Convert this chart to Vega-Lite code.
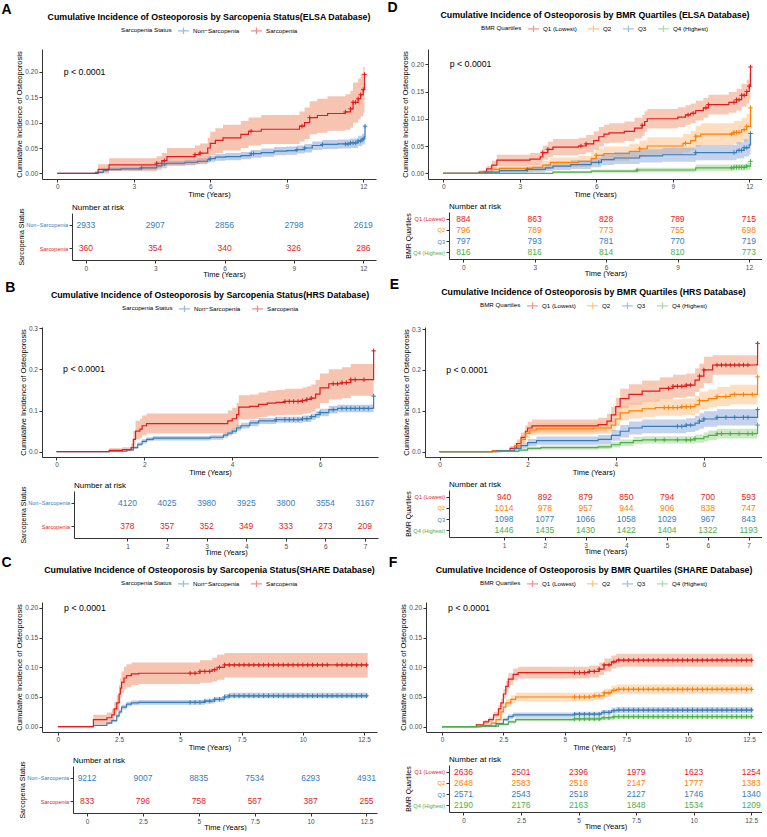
{
"$schema": "https://vega.github.io/schema/vega-lite/v6.json",
"background": "white",
"padding": {"left": 1, "top": 1, "right": 0, "bottom": 0},
"config": {
  "font": "Liberation Sans",
  "view": {"stroke": null},
  "axis": {"grid": false, "domainColor": "#333333", "tickColor": "#333333", "tickSize": 3, "labelColor": "#4D4D4D", "labelFontSize": 6.5, "titleFontSize": 7.5, "titleFontWeight": "normal", "titleColor": "#000000", "labelPadding": 1.5},
  "axisX": {"titlePadding": 0},
  "axisY": {"titlePadding": 1},
  "legend": {"orient": "top", "direction": "horizontal", "titleOrient": "left", "titleFontSize": 6.2, "titleFontWeight": "normal", "titleColor": "#000000", "labelFontSize": 6.2, "labelColor": "#000000", "symbolType": "M-1,0L1,0M0,-0.6L0,0.6", "symbolSize": 120, "symbolStrokeWidth": 1.3, "columnPadding": 8, "labelOffset": 3, "titlePadding": 5, "offset": 12, "padding": 0, "layout": {"top": {"anchor": "middle"}}},
  "title": {"fontSize": 8.8, "fontWeight": "bold", "color": "#000000", "offset": 2}
},
"datasets": {
"Ac": [
{"g":"Non−Sarcopenia","t":0,"v":0,"lo":0,"hi":0},{"g":"Non−Sarcopenia","t":1.5,"v":0.002,"lo":0.0005,"hi":0.004},{"g":"Non−Sarcopenia","t":1.8,"v":0.006,"lo":0.003,"hi":0.009},{"g":"Non−Sarcopenia","t":2.0,"v":0.008,"lo":0.005,"hi":0.012},{"g":"Non−Sarcopenia","t":2.5,"v":0.009,"lo":0.006,"hi":0.013},{"g":"Non−Sarcopenia","t":3.3,"v":0.011,"lo":0.007,"hi":0.015},{"g":"Non−Sarcopenia","t":3.9,"v":0.015,"lo":0.011,"hi":0.02},{"g":"Non−Sarcopenia","t":4.1,"v":0.019,"lo":0.014,"hi":0.024},{"g":"Non−Sarcopenia","t":4.3,"v":0.02,"lo":0.015,"hi":0.025},{"g":"Non−Sarcopenia","t":5.0,"v":0.022,"lo":0.017,"hi":0.027},{"g":"Non−Sarcopenia","t":5.5,"v":0.024,"lo":0.018,"hi":0.03},{"g":"Non−Sarcopenia","t":5.9,"v":0.027,"lo":0.021,"hi":0.033},{"g":"Non−Sarcopenia","t":6.0,"v":0.029,"lo":0.023,"hi":0.035},{"g":"Non−Sarcopenia","t":6.2,"v":0.032,"lo":0.025,"hi":0.038},{"g":"Non−Sarcopenia","t":6.6,"v":0.033,"lo":0.026,"hi":0.04},{"g":"Non−Sarcopenia","t":7.2,"v":0.035,"lo":0.028,"hi":0.042},{"g":"Non−Sarcopenia","t":7.6,"v":0.039,"lo":0.031,"hi":0.046},{"g":"Non−Sarcopenia","t":8.0,"v":0.041,"lo":0.033,"hi":0.049},{"g":"Non−Sarcopenia","t":8.5,"v":0.044,"lo":0.036,"hi":0.052},{"g":"Non−Sarcopenia","t":9.0,"v":0.045,"lo":0.037,"hi":0.053},{"g":"Non−Sarcopenia","t":9.4,"v":0.047,"lo":0.039,"hi":0.055},{"g":"Non−Sarcopenia","t":9.7,"v":0.05,"lo":0.041,"hi":0.058},{"g":"Non−Sarcopenia","t":10.0,"v":0.055,"lo":0.046,"hi":0.063},{"g":"Non−Sarcopenia","t":10.4,"v":0.057,"lo":0.048,"hi":0.066},{"g":"Non−Sarcopenia","t":11.0,"v":0.058,"lo":0.049,"hi":0.067},{"g":"Non−Sarcopenia","t":11.5,"v":0.06,"lo":0.05,"hi":0.069},{"g":"Non−Sarcopenia","t":11.8,"v":0.064,"lo":0.054,"hi":0.074},{"g":"Non−Sarcopenia","t":11.95,"v":0.068,"lo":0.057,"hi":0.078},{"g":"Non−Sarcopenia","t":12.05,"v":0.072,"lo":0.06,"hi":0.083},{"g":"Non−Sarcopenia","t":12.07,"v":0.093,"lo":0.075,"hi":0.11},
{"g":"Sarcopenia","t":0,"v":0,"lo":0,"hi":0},{"g":"Sarcopenia","t":1.6,"v":0.008,"lo":0,"hi":0.018},{"g":"Sarcopenia","t":2.03,"v":0.017,"lo":0.005,"hi":0.03},{"g":"Sarcopenia","t":3.9,"v":0.02,"lo":0.007,"hi":0.034},{"g":"Sarcopenia","t":4.1,"v":0.025,"lo":0.01,"hi":0.04},{"g":"Sarcopenia","t":4.3,"v":0.033,"lo":0.016,"hi":0.05},{"g":"Sarcopenia","t":5.4,"v":0.037,"lo":0.019,"hi":0.055},{"g":"Sarcopenia","t":5.6,"v":0.04,"lo":0.021,"hi":0.059},{"g":"Sarcopenia","t":5.9,"v":0.05,"lo":0.028,"hi":0.07},{"g":"Sarcopenia","t":6.0,"v":0.059,"lo":0.036,"hi":0.082},{"g":"Sarcopenia","t":6.2,"v":0.065,"lo":0.04,"hi":0.089},{"g":"Sarcopenia","t":6.5,"v":0.07,"lo":0.045,"hi":0.096},{"g":"Sarcopenia","t":7.2,"v":0.077,"lo":0.05,"hi":0.103},{"g":"Sarcopenia","t":7.5,"v":0.083,"lo":0.055,"hi":0.11},{"g":"Sarcopenia","t":8.0,"v":0.087,"lo":0.058,"hi":0.115},{"g":"Sarcopenia","t":9.5,"v":0.093,"lo":0.063,"hi":0.122},{"g":"Sarcopenia","t":9.7,"v":0.1,"lo":0.068,"hi":0.13},{"g":"Sarcopenia","t":9.9,"v":0.11,"lo":0.077,"hi":0.142},{"g":"Sarcopenia","t":10.2,"v":0.114,"lo":0.08,"hi":0.147},{"g":"Sarcopenia","t":10.6,"v":0.118,"lo":0.084,"hi":0.152},{"g":"Sarcopenia","t":11.3,"v":0.121,"lo":0.086,"hi":0.156},{"g":"Sarcopenia","t":11.5,"v":0.127,"lo":0.09,"hi":0.163},{"g":"Sarcopenia","t":11.6,"v":0.14,"lo":0.1,"hi":0.179},{"g":"Sarcopenia","t":11.8,"v":0.147,"lo":0.106,"hi":0.187},{"g":"Sarcopenia","t":11.9,"v":0.155,"lo":0.112,"hi":0.197},{"g":"Sarcopenia","t":12.0,"v":0.165,"lo":0.12,"hi":0.21},{"g":"Sarcopenia","t":12.05,"v":0.195,"lo":0.14,"hi":0.245}
],
"Ax": [
{"g":"Sarcopenia","t":3.9,"v":0.02},{"g":"Sarcopenia","t":4.2,"v":0.025},{"g":"Sarcopenia","t":5.4,"v":0.037},{"g":"Sarcopenia","t":5.6,"v":0.04},{"g":"Sarcopenia","t":7.6,"v":0.083},{"g":"Sarcopenia","t":9.6,"v":0.093},{"g":"Sarcopenia","t":9.9,"v":0.11},{"g":"Sarcopenia","t":11.3,"v":0.121},{"g":"Sarcopenia","t":11.5,"v":0.127},{"g":"Sarcopenia","t":11.6,"v":0.14},{"g":"Sarcopenia","t":11.7,"v":0.14},{"g":"Sarcopenia","t":11.8,"v":0.147},{"g":"Sarcopenia","t":11.9,"v":0.155},{"g":"Sarcopenia","t":12.0,"v":0.165},{"g":"Sarcopenia","t":12.05,"v":0.195},
{"g":"Non−Sarcopenia","t":3.3,"v":0.011},{"g":"Non−Sarcopenia","t":4.2,"v":0.019},{"g":"Non−Sarcopenia","t":6.0,"v":0.029},{"g":"Non−Sarcopenia","t":7.6,"v":0.039},{"g":"Non−Sarcopenia","t":7.7,"v":0.039},{"g":"Non−Sarcopenia","t":9.4,"v":0.047},{"g":"Non−Sarcopenia","t":9.7,"v":0.05},{"g":"Non−Sarcopenia","t":10.4,"v":0.057},{"g":"Non−Sarcopenia","t":11.3,"v":0.058},{"g":"Non−Sarcopenia","t":11.4,"v":0.058},{"g":"Non−Sarcopenia","t":11.5,"v":0.06},{"g":"Non−Sarcopenia","t":11.6,"v":0.06},{"g":"Non−Sarcopenia","t":11.7,"v":0.06},{"g":"Non−Sarcopenia","t":11.8,"v":0.064},{"g":"Non−Sarcopenia","t":11.9,"v":0.064},{"g":"Non−Sarcopenia","t":12.0,"v":0.068},{"g":"Non−Sarcopenia","t":12.07,"v":0.093}
],
"Ar": [
{"g":"Non−Sarcopenia","t":0,"n":"2933"},{"g":"Non−Sarcopenia","t":3,"n":"2907"},{"g":"Non−Sarcopenia","t":6,"n":"2856"},{"g":"Non−Sarcopenia","t":9,"n":"2798"},{"g":"Non−Sarcopenia","t":12,"n":"2619"},
{"g":"Sarcopenia","t":0,"n":"360"},{"g":"Sarcopenia","t":3,"n":"354"},{"g":"Sarcopenia","t":6,"n":"340"},{"g":"Sarcopenia","t":9,"n":"326"},{"g":"Sarcopenia","t":12,"n":"286"}
],
"Bc": [
{"g":"Non−Sarcopenia","t":0,"v":0,"lo":0,"hi":0},{"g":"Non−Sarcopenia","t":1.2,"v":0.001,"lo":0,"hi":0.002},{"g":"Non−Sarcopenia","t":1.6,"v":0.004,"lo":0.002,"hi":0.006},{"g":"Non−Sarcopenia","t":1.75,"v":0.01,"lo":0.007,"hi":0.013},{"g":"Non−Sarcopenia","t":1.85,"v":0.018,"lo":0.014,"hi":0.022},{"g":"Non−Sarcopenia","t":1.95,"v":0.025,"lo":0.02,"hi":0.03},{"g":"Non−Sarcopenia","t":2.05,"v":0.03,"lo":0.025,"hi":0.035},{"g":"Non−Sarcopenia","t":2.2,"v":0.033,"lo":0.027,"hi":0.038},{"g":"Non−Sarcopenia","t":3.5,"v":0.035,"lo":0.029,"hi":0.04},{"g":"Non−Sarcopenia","t":3.8,"v":0.04,"lo":0.034,"hi":0.046},{"g":"Non−Sarcopenia","t":3.9,"v":0.045,"lo":0.039,"hi":0.051},{"g":"Non−Sarcopenia","t":4.0,"v":0.05,"lo":0.043,"hi":0.056},{"g":"Non−Sarcopenia","t":4.1,"v":0.058,"lo":0.051,"hi":0.065},{"g":"Non−Sarcopenia","t":4.2,"v":0.063,"lo":0.056,"hi":0.07},{"g":"Non−Sarcopenia","t":4.4,"v":0.07,"lo":0.062,"hi":0.077},{"g":"Non−Sarcopenia","t":4.6,"v":0.075,"lo":0.067,"hi":0.082},{"g":"Non−Sarcopenia","t":5.0,"v":0.078,"lo":0.07,"hi":0.085},{"g":"Non−Sarcopenia","t":5.6,"v":0.08,"lo":0.072,"hi":0.088},{"g":"Non−Sarcopenia","t":5.8,"v":0.085,"lo":0.077,"hi":0.093},{"g":"Non−Sarcopenia","t":5.9,"v":0.09,"lo":0.081,"hi":0.098},{"g":"Non−Sarcopenia","t":6.0,"v":0.095,"lo":0.086,"hi":0.104},{"g":"Non−Sarcopenia","t":6.2,"v":0.102,"lo":0.093,"hi":0.111},{"g":"Non−Sarcopenia","t":6.4,"v":0.105,"lo":0.096,"hi":0.114},{"g":"Non−Sarcopenia","t":7.2,"v":0.106,"lo":0.096,"hi":0.115},{"g":"Non−Sarcopenia","t":7.22,"v":0.135,"lo":0.12,"hi":0.15},
{"g":"Sarcopenia","t":0,"v":0,"lo":0,"hi":0},{"g":"Sarcopenia","t":1.2,"v":0.003,"lo":0,"hi":0.008},{"g":"Sarcopenia","t":1.5,"v":0.005,"lo":0.001,"hi":0.011},{"g":"Sarcopenia","t":1.7,"v":0.01,"lo":0.002,"hi":0.02},{"g":"Sarcopenia","t":1.75,"v":0.03,"lo":0.015,"hi":0.05},{"g":"Sarcopenia","t":1.8,"v":0.05,"lo":0.03,"hi":0.075},{"g":"Sarcopenia","t":1.9,"v":0.055,"lo":0.034,"hi":0.08},{"g":"Sarcopenia","t":1.95,"v":0.063,"lo":0.04,"hi":0.088},{"g":"Sarcopenia","t":2.05,"v":0.068,"lo":0.045,"hi":0.093},{"g":"Sarcopenia","t":3.9,"v":0.075,"lo":0.05,"hi":0.1},{"g":"Sarcopenia","t":4.0,"v":0.08,"lo":0.054,"hi":0.106},{"g":"Sarcopenia","t":4.1,"v":0.09,"lo":0.062,"hi":0.118},{"g":"Sarcopenia","t":4.15,"v":0.108,"lo":0.078,"hi":0.137},{"g":"Sarcopenia","t":4.4,"v":0.11,"lo":0.08,"hi":0.139},{"g":"Sarcopenia","t":4.6,"v":0.115,"lo":0.084,"hi":0.144},{"g":"Sarcopenia","t":4.8,"v":0.118,"lo":0.087,"hi":0.148},{"g":"Sarcopenia","t":5.0,"v":0.12,"lo":0.089,"hi":0.15},{"g":"Sarcopenia","t":5.2,"v":0.122,"lo":0.09,"hi":0.153},{"g":"Sarcopenia","t":5.6,"v":0.124,"lo":0.092,"hi":0.156},{"g":"Sarcopenia","t":5.7,"v":0.127,"lo":0.094,"hi":0.159},{"g":"Sarcopenia","t":5.8,"v":0.13,"lo":0.097,"hi":0.163},{"g":"Sarcopenia","t":5.9,"v":0.14,"lo":0.105,"hi":0.174},{"g":"Sarcopenia","t":6.0,"v":0.155,"lo":0.118,"hi":0.19},{"g":"Sarcopenia","t":6.2,"v":0.165,"lo":0.127,"hi":0.2},{"g":"Sarcopenia","t":6.5,"v":0.168,"lo":0.13,"hi":0.205},{"g":"Sarcopenia","t":6.7,"v":0.175,"lo":0.136,"hi":0.213},{"g":"Sarcopenia","t":7.2,"v":0.175,"lo":0.136,"hi":0.213},{"g":"Sarcopenia","t":7.22,"v":0.245,"lo":0.18,"hi":0.3}
],
"Bx": [
{"g":"Sarcopenia","t":5.2,"v":0.122},{"g":"Sarcopenia","t":5.3,"v":0.122},{"g":"Sarcopenia","t":5.4,"v":0.122},{"g":"Sarcopenia","t":5.5,"v":0.122},{"g":"Sarcopenia","t":5.6,"v":0.124},{"g":"Sarcopenia","t":5.7,"v":0.127},{"g":"Sarcopenia","t":5.8,"v":0.13},{"g":"Sarcopenia","t":6.3,"v":0.165},{"g":"Sarcopenia","t":6.4,"v":0.165},{"g":"Sarcopenia","t":6.5,"v":0.168},{"g":"Sarcopenia","t":6.6,"v":0.168},{"g":"Sarcopenia","t":6.7,"v":0.175},{"g":"Sarcopenia","t":6.8,"v":0.175},{"g":"Sarcopenia","t":7.0,"v":0.175},{"g":"Sarcopenia","t":7.22,"v":0.245},
{"g":"Non−Sarcopenia","t":5.0,"v":0.078},{"g":"Non−Sarcopenia","t":5.2,"v":0.078},{"g":"Non−Sarcopenia","t":5.3,"v":0.078},{"g":"Non−Sarcopenia","t":5.4,"v":0.078},{"g":"Non−Sarcopenia","t":5.5,"v":0.078},{"g":"Non−Sarcopenia","t":5.6,"v":0.08},{"g":"Non−Sarcopenia","t":5.7,"v":0.08},{"g":"Non−Sarcopenia","t":5.8,"v":0.085},{"g":"Non−Sarcopenia","t":6.0,"v":0.095},{"g":"Non−Sarcopenia","t":6.3,"v":0.102},{"g":"Non−Sarcopenia","t":6.5,"v":0.105},{"g":"Non−Sarcopenia","t":6.6,"v":0.105},{"g":"Non−Sarcopenia","t":6.7,"v":0.105},{"g":"Non−Sarcopenia","t":6.8,"v":0.105},{"g":"Non−Sarcopenia","t":6.9,"v":0.105},{"g":"Non−Sarcopenia","t":7.0,"v":0.105},{"g":"Non−Sarcopenia","t":7.1,"v":0.105},{"g":"Non−Sarcopenia","t":7.22,"v":0.135}
],
"Br": [
{"g":"Non−Sarcopenia","t":1,"n":"4120"},{"g":"Non−Sarcopenia","t":2,"n":"4025"},{"g":"Non−Sarcopenia","t":3,"n":"3980"},{"g":"Non−Sarcopenia","t":4,"n":"3925"},{"g":"Non−Sarcopenia","t":5,"n":"3800"},{"g":"Non−Sarcopenia","t":6,"n":"3554"},{"g":"Non−Sarcopenia","t":7,"n":"3167"},
{"g":"Sarcopenia","t":1,"n":"378"},{"g":"Sarcopenia","t":2,"n":"357"},{"g":"Sarcopenia","t":3,"n":"352"},{"g":"Sarcopenia","t":4,"n":"349"},{"g":"Sarcopenia","t":5,"n":"333"},{"g":"Sarcopenia","t":6,"n":"273"},{"g":"Sarcopenia","t":7,"n":"209"}
],
"Cc": [
{"g":"Non−Sarcopenia","t":0,"v":0,"lo":0,"hi":0},{"g":"Non−Sarcopenia","t":1.45,"v":0.002,"lo":0.001,"hi":0.003},{"g":"Non−Sarcopenia","t":2.0,"v":0.006,"lo":0.004,"hi":0.008},{"g":"Non−Sarcopenia","t":2.2,"v":0.01,"lo":0.008,"hi":0.012},{"g":"Non−Sarcopenia","t":2.4,"v":0.018,"lo":0.015,"hi":0.021},{"g":"Non−Sarcopenia","t":2.5,"v":0.025,"lo":0.021,"hi":0.029},{"g":"Non−Sarcopenia","t":2.6,"v":0.033,"lo":0.029,"hi":0.037},{"g":"Non−Sarcopenia","t":2.8,"v":0.038,"lo":0.034,"hi":0.042},{"g":"Non−Sarcopenia","t":3.0,"v":0.04,"lo":0.036,"hi":0.044},{"g":"Non−Sarcopenia","t":3.3,"v":0.041,"lo":0.037,"hi":0.045},{"g":"Non−Sarcopenia","t":6.0,"v":0.043,"lo":0.039,"hi":0.047},{"g":"Non−Sarcopenia","t":6.4,"v":0.046,"lo":0.042,"hi":0.05},{"g":"Non−Sarcopenia","t":6.8,"v":0.05,"lo":0.046,"hi":0.055},{"g":"Non−Sarcopenia","t":7.0,"v":0.052,"lo":0.048,"hi":0.057},{"g":"Non−Sarcopenia","t":12.65,"v":0.052,"lo":0.048,"hi":0.057},
{"g":"Sarcopenia","t":0,"v":0,"lo":0,"hi":0},{"g":"Sarcopenia","t":1.45,"v":0.012,"lo":0.004,"hi":0.02},{"g":"Sarcopenia","t":2.0,"v":0.015,"lo":0.007,"hi":0.024},{"g":"Sarcopenia","t":2.2,"v":0.02,"lo":0.011,"hi":0.03},{"g":"Sarcopenia","t":2.3,"v":0.03,"lo":0.019,"hi":0.042},{"g":"Sarcopenia","t":2.4,"v":0.04,"lo":0.027,"hi":0.053},{"g":"Sarcopenia","t":2.5,"v":0.055,"lo":0.04,"hi":0.07},{"g":"Sarcopenia","t":2.55,"v":0.065,"lo":0.048,"hi":0.082},{"g":"Sarcopenia","t":2.6,"v":0.075,"lo":0.057,"hi":0.093},{"g":"Sarcopenia","t":2.7,"v":0.082,"lo":0.063,"hi":0.101},{"g":"Sarcopenia","t":2.8,"v":0.086,"lo":0.067,"hi":0.105},{"g":"Sarcopenia","t":3.0,"v":0.089,"lo":0.07,"hi":0.108},{"g":"Sarcopenia","t":3.3,"v":0.09,"lo":0.072,"hi":0.108},{"g":"Sarcopenia","t":5.8,"v":0.093,"lo":0.074,"hi":0.112},{"g":"Sarcopenia","t":6.3,"v":0.096,"lo":0.076,"hi":0.116},{"g":"Sarcopenia","t":6.5,"v":0.1,"lo":0.079,"hi":0.121},{"g":"Sarcopenia","t":6.8,"v":0.104,"lo":0.083,"hi":0.124},{"g":"Sarcopenia","t":12.65,"v":0.104,"lo":0.083,"hi":0.124}
],
"Cx": [
{"g":"Sarcopenia","t":5.4,"v":0.09},{"g":"Sarcopenia","t":5.6,"v":0.09},{"g":"Sarcopenia","t":5.8,"v":0.093},{"g":"Sarcopenia","t":6.0,"v":0.093},{"g":"Sarcopenia","t":6.2,"v":0.093},{"g":"Sarcopenia","t":6.4,"v":0.096},{"g":"Sarcopenia","t":6.6,"v":0.1},{"g":"Sarcopenia","t":6.8,"v":0.104},{"g":"Sarcopenia","t":7.0,"v":0.104},{"g":"Sarcopenia","t":7.2,"v":0.104},{"g":"Sarcopenia","t":7.4,"v":0.104},{"g":"Sarcopenia","t":7.6,"v":0.104},{"g":"Sarcopenia","t":7.8,"v":0.104},{"g":"Sarcopenia","t":8.0,"v":0.104},{"g":"Sarcopenia","t":8.2,"v":0.104},{"g":"Sarcopenia","t":8.4,"v":0.104},{"g":"Sarcopenia","t":8.6,"v":0.104},{"g":"Sarcopenia","t":8.8,"v":0.104},{"g":"Sarcopenia","t":9.0,"v":0.104},{"g":"Sarcopenia","t":9.2,"v":0.104},{"g":"Sarcopenia","t":9.4,"v":0.104},{"g":"Sarcopenia","t":9.6,"v":0.104},{"g":"Sarcopenia","t":9.8,"v":0.104},{"g":"Sarcopenia","t":10.0,"v":0.104},{"g":"Sarcopenia","t":10.2,"v":0.104},{"g":"Sarcopenia","t":10.4,"v":0.104},{"g":"Sarcopenia","t":10.6,"v":0.104},{"g":"Sarcopenia","t":10.8,"v":0.104},{"g":"Sarcopenia","t":11.0,"v":0.104},{"g":"Sarcopenia","t":11.4,"v":0.104},{"g":"Sarcopenia","t":11.6,"v":0.104},{"g":"Sarcopenia","t":11.8,"v":0.104},{"g":"Sarcopenia","t":12.0,"v":0.104},{"g":"Sarcopenia","t":12.2,"v":0.104},{"g":"Sarcopenia","t":12.4,"v":0.104},{"g":"Sarcopenia","t":12.6,"v":0.104},
{"g":"Non−Sarcopenia","t":5.4,"v":0.041},{"g":"Non−Sarcopenia","t":5.6,"v":0.041},{"g":"Non−Sarcopenia","t":5.8,"v":0.041},{"g":"Non−Sarcopenia","t":6.0,"v":0.043},{"g":"Non−Sarcopenia","t":6.2,"v":0.043},{"g":"Non−Sarcopenia","t":6.4,"v":0.046},{"g":"Non−Sarcopenia","t":6.6,"v":0.046},{"g":"Non−Sarcopenia","t":6.8,"v":0.05},{"g":"Non−Sarcopenia","t":7.0,"v":0.052},{"g":"Non−Sarcopenia","t":7.2,"v":0.052},{"g":"Non−Sarcopenia","t":7.4,"v":0.052},{"g":"Non−Sarcopenia","t":7.6,"v":0.052},{"g":"Non−Sarcopenia","t":7.8,"v":0.052},{"g":"Non−Sarcopenia","t":8.0,"v":0.052},{"g":"Non−Sarcopenia","t":8.2,"v":0.052},{"g":"Non−Sarcopenia","t":8.4,"v":0.052},{"g":"Non−Sarcopenia","t":8.6,"v":0.052},{"g":"Non−Sarcopenia","t":8.8,"v":0.052},{"g":"Non−Sarcopenia","t":9.0,"v":0.052},{"g":"Non−Sarcopenia","t":9.2,"v":0.052},{"g":"Non−Sarcopenia","t":9.4,"v":0.052},{"g":"Non−Sarcopenia","t":9.6,"v":0.052},{"g":"Non−Sarcopenia","t":9.8,"v":0.052},{"g":"Non−Sarcopenia","t":10.0,"v":0.052},{"g":"Non−Sarcopenia","t":10.2,"v":0.052},{"g":"Non−Sarcopenia","t":10.4,"v":0.052},{"g":"Non−Sarcopenia","t":10.6,"v":0.052},{"g":"Non−Sarcopenia","t":10.8,"v":0.052},{"g":"Non−Sarcopenia","t":11.0,"v":0.052},{"g":"Non−Sarcopenia","t":11.2,"v":0.052},{"g":"Non−Sarcopenia","t":11.4,"v":0.052},{"g":"Non−Sarcopenia","t":11.6,"v":0.052},{"g":"Non−Sarcopenia","t":11.8,"v":0.052},{"g":"Non−Sarcopenia","t":12.0,"v":0.052},{"g":"Non−Sarcopenia","t":12.2,"v":0.052},{"g":"Non−Sarcopenia","t":12.4,"v":0.052},{"g":"Non−Sarcopenia","t":12.6,"v":0.052}
],
"Cr": [
{"g":"Non−Sarcopenia","t":0,"n":"9212"},{"g":"Non−Sarcopenia","t":2.5,"n":"9007"},{"g":"Non−Sarcopenia","t":5,"n":"8835"},{"g":"Non−Sarcopenia","t":7.5,"n":"7534"},{"g":"Non−Sarcopenia","t":10,"n":"6293"},{"g":"Non−Sarcopenia","t":12.5,"n":"4931"},
{"g":"Sarcopenia","t":0,"n":"833"},{"g":"Sarcopenia","t":2.5,"n":"796"},{"g":"Sarcopenia","t":5,"n":"758"},{"g":"Sarcopenia","t":7.5,"n":"567"},{"g":"Sarcopenia","t":10,"n":"387"},{"g":"Sarcopenia","t":12.5,"n":"255"}
],
"Dc": [
{"g":"Q1 (Lowest)","t":0,"v":0,"lo":0,"hi":0},{"g":"Q1 (Lowest)","t":1.4,"v":0.002,"lo":0,"hi":0.005},{"g":"Q1 (Lowest)","t":1.7,"v":0.008,"lo":0.002,"hi":0.014},{"g":"Q1 (Lowest)","t":1.9,"v":0.015,"lo":0.007,"hi":0.023},{"g":"Q1 (Lowest)","t":2.1,"v":0.024,"lo":0.014,"hi":0.034},{"g":"Q1 (Lowest)","t":3.4,"v":0.026,"lo":0.015,"hi":0.037},{"g":"Q1 (Lowest)","t":3.8,"v":0.03,"lo":0.018,"hi":0.042},{"g":"Q1 (Lowest)","t":3.9,"v":0.038,"lo":0.025,"hi":0.051},{"g":"Q1 (Lowest)","t":4.1,"v":0.044,"lo":0.03,"hi":0.058},{"g":"Q1 (Lowest)","t":4.3,"v":0.048,"lo":0.033,"hi":0.063},{"g":"Q1 (Lowest)","t":5.3,"v":0.05,"lo":0.035,"hi":0.065},{"g":"Q1 (Lowest)","t":5.6,"v":0.054,"lo":0.038,"hi":0.07},{"g":"Q1 (Lowest)","t":5.9,"v":0.06,"lo":0.043,"hi":0.077},{"g":"Q1 (Lowest)","t":6.1,"v":0.067,"lo":0.049,"hi":0.085},{"g":"Q1 (Lowest)","t":6.3,"v":0.072,"lo":0.055,"hi":0.089},{"g":"Q1 (Lowest)","t":6.5,"v":0.074,"lo":0.056,"hi":0.092},{"g":"Q1 (Lowest)","t":7.1,"v":0.077,"lo":0.059,"hi":0.095},{"g":"Q1 (Lowest)","t":7.5,"v":0.083,"lo":0.064,"hi":0.102},{"g":"Q1 (Lowest)","t":7.8,"v":0.088,"lo":0.069,"hi":0.107},{"g":"Q1 (Lowest)","t":7.9,"v":0.095,"lo":0.076,"hi":0.114},{"g":"Q1 (Lowest)","t":8.0,"v":0.1,"lo":0.082,"hi":0.118},{"g":"Q1 (Lowest)","t":9.2,"v":0.103,"lo":0.085,"hi":0.121},{"g":"Q1 (Lowest)","t":9.5,"v":0.107,"lo":0.089,"hi":0.125},{"g":"Q1 (Lowest)","t":9.7,"v":0.11,"lo":0.092,"hi":0.128},{"g":"Q1 (Lowest)","t":9.9,"v":0.115,"lo":0.097,"hi":0.133},{"g":"Q1 (Lowest)","t":10.2,"v":0.12,"lo":0.102,"hi":0.138},{"g":"Q1 (Lowest)","t":10.4,"v":0.126,"lo":0.108,"hi":0.144},{"g":"Q1 (Lowest)","t":11.2,"v":0.13,"lo":0.111,"hi":0.149},{"g":"Q1 (Lowest)","t":11.5,"v":0.135,"lo":0.115,"hi":0.155},{"g":"Q1 (Lowest)","t":11.7,"v":0.143,"lo":0.122,"hi":0.164},{"g":"Q1 (Lowest)","t":11.9,"v":0.15,"lo":0.128,"hi":0.172},{"g":"Q1 (Lowest)","t":12.0,"v":0.16,"lo":0.136,"hi":0.184},{"g":"Q1 (Lowest)","t":12.05,"v":0.195,"lo":0.16,"hi":0.23},
{"g":"Q2","t":0,"v":0,"lo":0,"hi":0},{"g":"Q2","t":1.5,"v":0.002,"lo":0,"hi":0.005},{"g":"Q2","t":1.9,"v":0.007,"lo":0.002,"hi":0.012},{"g":"Q2","t":2.2,"v":0.009,"lo":0.003,"hi":0.015},{"g":"Q2","t":3.5,"v":0.011,"lo":0.004,"hi":0.018},{"g":"Q2","t":3.9,"v":0.015,"lo":0.007,"hi":0.023},{"g":"Q2","t":4.2,"v":0.02,"lo":0.011,"hi":0.029},{"g":"Q2","t":5.3,"v":0.022,"lo":0.012,"hi":0.032},{"g":"Q2","t":5.8,"v":0.027,"lo":0.016,"hi":0.038},{"g":"Q2","t":6.0,"v":0.033,"lo":0.021,"hi":0.045},{"g":"Q2","t":6.3,"v":0.036,"lo":0.023,"hi":0.049},{"g":"Q2","t":7.3,"v":0.04,"lo":0.026,"hi":0.054},{"g":"Q2","t":7.7,"v":0.045,"lo":0.03,"hi":0.06},{"g":"Q2","t":8.0,"v":0.05,"lo":0.034,"hi":0.066},{"g":"Q2","t":9.4,"v":0.055,"lo":0.038,"hi":0.072},{"g":"Q2","t":9.7,"v":0.06,"lo":0.042,"hi":0.078},{"g":"Q2","t":9.9,"v":0.068,"lo":0.049,"hi":0.087},{"g":"Q2","t":10.1,"v":0.072,"lo":0.052,"hi":0.092},{"g":"Q2","t":11.4,"v":0.075,"lo":0.054,"hi":0.096},{"g":"Q2","t":11.7,"v":0.08,"lo":0.058,"hi":0.102},{"g":"Q2","t":11.9,"v":0.086,"lo":0.063,"hi":0.109},{"g":"Q2","t":12.05,"v":0.12,"lo":0.088,"hi":0.152},
{"g":"Q3","t":0,"v":0,"lo":0,"hi":0},{"g":"Q3","t":1.6,"v":0.002,"lo":0,"hi":0.005},{"g":"Q3","t":2.2,"v":0.005,"lo":0.001,"hi":0.01},{"g":"Q3","t":3.3,"v":0.007,"lo":0.002,"hi":0.012},{"g":"Q3","t":4.0,"v":0.01,"lo":0.004,"hi":0.016},{"g":"Q3","t":4.3,"v":0.013,"lo":0.006,"hi":0.02},{"g":"Q3","t":5.0,"v":0.016,"lo":0.008,"hi":0.024},{"g":"Q3","t":5.8,"v":0.02,"lo":0.011,"hi":0.029},{"g":"Q3","t":6.2,"v":0.025,"lo":0.015,"hi":0.035},{"g":"Q3","t":6.7,"v":0.028,"lo":0.017,"hi":0.039},{"g":"Q3","t":7.7,"v":0.032,"lo":0.02,"hi":0.044},{"g":"Q3","t":8.6,"v":0.034,"lo":0.021,"hi":0.047},{"g":"Q3","t":9.9,"v":0.038,"lo":0.024,"hi":0.052},{"g":"Q3","t":11.5,"v":0.042,"lo":0.027,"hi":0.057},{"g":"Q3","t":11.8,"v":0.047,"lo":0.031,"hi":0.063},{"g":"Q3","t":12.0,"v":0.052,"lo":0.035,"hi":0.069},{"g":"Q3","t":12.05,"v":0.073,"lo":0.05,"hi":0.096},
{"g":"Q4 (Highest)","t":0,"v":0,"lo":0,"hi":0},{"g":"Q4 (Highest)","t":4.3,"v":0.002,"lo":0,"hi":0.004},{"g":"Q4 (Highest)","t":5.8,"v":0.004,"lo":0.001,"hi":0.007},{"g":"Q4 (Highest)","t":7.6,"v":0.006,"lo":0.002,"hi":0.01},{"g":"Q4 (Highest)","t":9.9,"v":0.01,"lo":0.004,"hi":0.016},{"g":"Q4 (Highest)","t":11.4,"v":0.011,"lo":0.005,"hi":0.017},{"g":"Q4 (Highest)","t":11.9,"v":0.013,"lo":0.006,"hi":0.02},{"g":"Q4 (Highest)","t":12.05,"v":0.022,"lo":0.01,"hi":0.034}
],
"Dx": [
{"g":"Q1 (Lowest)","t":3.9,"v":0.038},{"g":"Q1 (Lowest)","t":4.1,"v":0.044},{"g":"Q1 (Lowest)","t":5.4,"v":0.05},{"g":"Q1 (Lowest)","t":5.6,"v":0.054},{"g":"Q1 (Lowest)","t":7.8,"v":0.088},{"g":"Q1 (Lowest)","t":9.6,"v":0.107},{"g":"Q1 (Lowest)","t":9.8,"v":0.11},{"g":"Q1 (Lowest)","t":10.3,"v":0.12},{"g":"Q1 (Lowest)","t":10.4,"v":0.126},{"g":"Q1 (Lowest)","t":11.4,"v":0.13},{"g":"Q1 (Lowest)","t":11.5,"v":0.135},{"g":"Q1 (Lowest)","t":11.6,"v":0.135},{"g":"Q1 (Lowest)","t":11.7,"v":0.143},{"g":"Q1 (Lowest)","t":11.8,"v":0.143},{"g":"Q1 (Lowest)","t":11.9,"v":0.15},{"g":"Q1 (Lowest)","t":12.0,"v":0.16},{"g":"Q1 (Lowest)","t":12.05,"v":0.195},
{"g":"Q2","t":6.0,"v":0.033},{"g":"Q2","t":7.7,"v":0.045},{"g":"Q2","t":9.5,"v":0.055},{"g":"Q2","t":9.9,"v":0.068},{"g":"Q2","t":11.3,"v":0.072},{"g":"Q2","t":11.4,"v":0.075},{"g":"Q2","t":11.5,"v":0.075},{"g":"Q2","t":11.6,"v":0.075},{"g":"Q2","t":11.8,"v":0.08},{"g":"Q2","t":11.9,"v":0.086},{"g":"Q2","t":12.05,"v":0.12},
{"g":"Q3","t":3.3,"v":0.007},{"g":"Q3","t":6.1,"v":0.02},{"g":"Q3","t":9.9,"v":0.038},{"g":"Q3","t":11.4,"v":0.038},{"g":"Q3","t":11.6,"v":0.042},{"g":"Q3","t":11.7,"v":0.042},{"g":"Q3","t":11.8,"v":0.047},{"g":"Q3","t":11.9,"v":0.047},{"g":"Q3","t":12.05,"v":0.073},
{"g":"Q4 (Highest)","t":7.6,"v":0.006},{"g":"Q4 (Highest)","t":11.3,"v":0.01},{"g":"Q4 (Highest)","t":11.4,"v":0.011},{"g":"Q4 (Highest)","t":11.5,"v":0.011},{"g":"Q4 (Highest)","t":11.6,"v":0.011},{"g":"Q4 (Highest)","t":11.7,"v":0.011},{"g":"Q4 (Highest)","t":11.8,"v":0.011},{"g":"Q4 (Highest)","t":11.9,"v":0.013},{"g":"Q4 (Highest)","t":12.05,"v":0.022}
],
"Dr": [
{"g":"Q1 (Lowest)","t":0,"n":"884"},{"g":"Q1 (Lowest)","t":3,"n":"863"},{"g":"Q1 (Lowest)","t":6,"n":"828"},{"g":"Q1 (Lowest)","t":9,"n":"789"},{"g":"Q1 (Lowest)","t":12,"n":"715"},
{"g":"Q2","t":0,"n":"796"},{"g":"Q2","t":3,"n":"789"},{"g":"Q2","t":6,"n":"773"},{"g":"Q2","t":9,"n":"755"},{"g":"Q2","t":12,"n":"698"},
{"g":"Q3","t":0,"n":"797"},{"g":"Q3","t":3,"n":"793"},{"g":"Q3","t":6,"n":"781"},{"g":"Q3","t":9,"n":"770"},{"g":"Q3","t":12,"n":"719"},
{"g":"Q4 (Highest)","t":0,"n":"816"},{"g":"Q4 (Highest)","t":3,"n":"816"},{"g":"Q4 (Highest)","t":6,"n":"814"},{"g":"Q4 (Highest)","t":9,"n":"810"},{"g":"Q4 (Highest)","t":12,"n":"773"}
],
"Ec": [
{"g":"Q1 (Lowest)","t":0,"v":0,"lo":0,"hi":0},{"g":"Q1 (Lowest)","t":1.2,"v":0.002,"lo":0,"hi":0.005},{"g":"Q1 (Lowest)","t":1.6,"v":0.008,"lo":0.002,"hi":0.014},{"g":"Q1 (Lowest)","t":1.75,"v":0.02,"lo":0.011,"hi":0.03},{"g":"Q1 (Lowest)","t":1.85,"v":0.035,"lo":0.023,"hi":0.047},{"g":"Q1 (Lowest)","t":1.95,"v":0.05,"lo":0.036,"hi":0.064},{"g":"Q1 (Lowest)","t":2.0,"v":0.058,"lo":0.043,"hi":0.073},{"g":"Q1 (Lowest)","t":2.1,"v":0.063,"lo":0.047,"hi":0.079},{"g":"Q1 (Lowest)","t":3.6,"v":0.066,"lo":0.05,"hi":0.083},{"g":"Q1 (Lowest)","t":3.8,"v":0.075,"lo":0.057,"hi":0.093},{"g":"Q1 (Lowest)","t":3.9,"v":0.09,"lo":0.07,"hi":0.11},{"g":"Q1 (Lowest)","t":4.0,"v":0.11,"lo":0.088,"hi":0.132},{"g":"Q1 (Lowest)","t":4.1,"v":0.13,"lo":0.106,"hi":0.154},{"g":"Q1 (Lowest)","t":4.3,"v":0.14,"lo":0.115,"hi":0.165},{"g":"Q1 (Lowest)","t":4.6,"v":0.148,"lo":0.122,"hi":0.174},{"g":"Q1 (Lowest)","t":5.0,"v":0.155,"lo":0.128,"hi":0.182},{"g":"Q1 (Lowest)","t":5.3,"v":0.16,"lo":0.132,"hi":0.188},{"g":"Q1 (Lowest)","t":5.6,"v":0.163,"lo":0.135,"hi":0.191},{"g":"Q1 (Lowest)","t":5.8,"v":0.175,"lo":0.146,"hi":0.204},{"g":"Q1 (Lowest)","t":5.9,"v":0.185,"lo":0.155,"hi":0.215},{"g":"Q1 (Lowest)","t":6.0,"v":0.2,"lo":0.168,"hi":0.232},{"g":"Q1 (Lowest)","t":6.2,"v":0.212,"lo":0.188,"hi":0.236},{"g":"Q1 (Lowest)","t":7.2,"v":0.213,"lo":0.188,"hi":0.237},{"g":"Q1 (Lowest)","t":7.22,"v":0.265,"lo":0.22,"hi":0.31},
{"g":"Q2","t":0,"v":0,"lo":0,"hi":0},{"g":"Q2","t":1.2,"v":0.002,"lo":0,"hi":0.004},{"g":"Q2","t":1.7,"v":0.015,"lo":0.008,"hi":0.022},{"g":"Q2","t":1.85,"v":0.03,"lo":0.02,"hi":0.04},{"g":"Q2","t":1.95,"v":0.045,"lo":0.033,"hi":0.057},{"g":"Q2","t":2.05,"v":0.053,"lo":0.04,"hi":0.066},{"g":"Q2","t":2.2,"v":0.056,"lo":0.042,"hi":0.07},{"g":"Q2","t":3.5,"v":0.058,"lo":0.044,"hi":0.072},{"g":"Q2","t":3.9,"v":0.065,"lo":0.05,"hi":0.08},{"g":"Q2","t":4.0,"v":0.08,"lo":0.063,"hi":0.097},{"g":"Q2","t":4.1,"v":0.095,"lo":0.077,"hi":0.113},{"g":"Q2","t":4.3,"v":0.1,"lo":0.081,"hi":0.119},{"g":"Q2","t":4.6,"v":0.105,"lo":0.085,"hi":0.125},{"g":"Q2","t":4.9,"v":0.108,"lo":0.088,"hi":0.128},{"g":"Q2","t":5.5,"v":0.11,"lo":0.09,"hi":0.13},{"g":"Q2","t":5.8,"v":0.115,"lo":0.094,"hi":0.136},{"g":"Q2","t":5.9,"v":0.125,"lo":0.103,"hi":0.147},{"g":"Q2","t":6.1,"v":0.13,"lo":0.108,"hi":0.152},{"g":"Q2","t":6.3,"v":0.135,"lo":0.112,"hi":0.158},{"g":"Q2","t":6.6,"v":0.14,"lo":0.116,"hi":0.164},{"g":"Q2","t":7.2,"v":0.14,"lo":0.116,"hi":0.164},{"g":"Q2","t":7.22,"v":0.183,"lo":0.15,"hi":0.215},
{"g":"Q3","t":0,"v":0,"lo":0,"hi":0},{"g":"Q3","t":1.3,"v":0.002,"lo":0,"hi":0.004},{"g":"Q3","t":1.7,"v":0.008,"lo":0.003,"hi":0.013},{"g":"Q3","t":1.85,"v":0.015,"lo":0.008,"hi":0.022},{"g":"Q3","t":2.0,"v":0.022,"lo":0.013,"hi":0.031},{"g":"Q3","t":2.2,"v":0.027,"lo":0.017,"hi":0.037},{"g":"Q3","t":3.6,"v":0.03,"lo":0.019,"hi":0.041},{"g":"Q3","t":3.9,"v":0.04,"lo":0.027,"hi":0.053},{"g":"Q3","t":4.1,"v":0.05,"lo":0.035,"hi":0.065},{"g":"Q3","t":4.3,"v":0.058,"lo":0.042,"hi":0.074},{"g":"Q3","t":4.6,"v":0.062,"lo":0.045,"hi":0.079},{"g":"Q3","t":5.6,"v":0.065,"lo":0.048,"hi":0.082},{"g":"Q3","t":5.8,"v":0.07,"lo":0.052,"hi":0.088},{"g":"Q3","t":5.9,"v":0.075,"lo":0.056,"hi":0.094},{"g":"Q3","t":6.0,"v":0.08,"lo":0.061,"hi":0.099},{"g":"Q3","t":6.3,"v":0.084,"lo":0.064,"hi":0.104},{"g":"Q3","t":7.2,"v":0.084,"lo":0.064,"hi":0.104},{"g":"Q3","t":7.22,"v":0.103,"lo":0.08,"hi":0.126},
{"g":"Q4 (Highest)","t":0,"v":0,"lo":0,"hi":0},{"g":"Q4 (Highest)","t":1.4,"v":0.001,"lo":0,"hi":0.003},{"g":"Q4 (Highest)","t":1.8,"v":0.004,"lo":0.001,"hi":0.007},{"g":"Q4 (Highest)","t":2.0,"v":0.008,"lo":0.004,"hi":0.012},{"g":"Q4 (Highest)","t":2.3,"v":0.01,"lo":0.005,"hi":0.015},{"g":"Q4 (Highest)","t":3.6,"v":0.012,"lo":0.006,"hi":0.018},{"g":"Q4 (Highest)","t":3.9,"v":0.017,"lo":0.01,"hi":0.024},{"g":"Q4 (Highest)","t":4.1,"v":0.022,"lo":0.014,"hi":0.03},{"g":"Q4 (Highest)","t":4.4,"v":0.027,"lo":0.018,"hi":0.036},{"g":"Q4 (Highest)","t":4.6,"v":0.029,"lo":0.02,"hi":0.038},{"g":"Q4 (Highest)","t":5.8,"v":0.032,"lo":0.022,"hi":0.042},{"g":"Q4 (Highest)","t":6.0,"v":0.036,"lo":0.025,"hi":0.047},{"g":"Q4 (Highest)","t":6.1,"v":0.04,"lo":0.028,"hi":0.052},{"g":"Q4 (Highest)","t":6.3,"v":0.044,"lo":0.032,"hi":0.056},{"g":"Q4 (Highest)","t":7.2,"v":0.045,"lo":0.033,"hi":0.057},{"g":"Q4 (Highest)","t":7.22,"v":0.065,"lo":0.048,"hi":0.082}
],
"Ex": [
{"g":"Q1 (Lowest)","t":5.2,"v":0.155},{"g":"Q1 (Lowest)","t":5.3,"v":0.16},{"g":"Q1 (Lowest)","t":5.4,"v":0.16},{"g":"Q1 (Lowest)","t":5.5,"v":0.16},{"g":"Q1 (Lowest)","t":5.6,"v":0.163},{"g":"Q1 (Lowest)","t":5.7,"v":0.163},{"g":"Q1 (Lowest)","t":5.9,"v":0.185},{"g":"Q1 (Lowest)","t":6.0,"v":0.2},{"g":"Q1 (Lowest)","t":6.3,"v":0.212},{"g":"Q1 (Lowest)","t":6.4,"v":0.212},{"g":"Q1 (Lowest)","t":6.5,"v":0.212},{"g":"Q1 (Lowest)","t":6.6,"v":0.212},{"g":"Q1 (Lowest)","t":6.7,"v":0.212},{"g":"Q1 (Lowest)","t":6.8,"v":0.212},{"g":"Q1 (Lowest)","t":6.9,"v":0.212},{"g":"Q1 (Lowest)","t":7.0,"v":0.212},{"g":"Q1 (Lowest)","t":7.22,"v":0.265},
{"g":"Q2","t":5.1,"v":0.108},{"g":"Q2","t":5.2,"v":0.108},{"g":"Q2","t":5.3,"v":0.108},{"g":"Q2","t":5.4,"v":0.108},{"g":"Q2","t":5.5,"v":0.11},{"g":"Q2","t":5.6,"v":0.11},{"g":"Q2","t":5.7,"v":0.11},{"g":"Q2","t":5.9,"v":0.125},{"g":"Q2","t":6.3,"v":0.135},{"g":"Q2","t":6.5,"v":0.135},{"g":"Q2","t":6.7,"v":0.14},{"g":"Q2","t":6.9,"v":0.14},{"g":"Q2","t":7.1,"v":0.14},{"g":"Q2","t":7.22,"v":0.183},
{"g":"Q3","t":5.4,"v":0.062},{"g":"Q3","t":5.5,"v":0.062},{"g":"Q3","t":5.6,"v":0.065},{"g":"Q3","t":5.7,"v":0.065},{"g":"Q3","t":5.9,"v":0.075},{"g":"Q3","t":6.0,"v":0.08},{"g":"Q3","t":6.3,"v":0.084},{"g":"Q3","t":6.5,"v":0.084},{"g":"Q3","t":6.7,"v":0.084},{"g":"Q3","t":6.9,"v":0.084},{"g":"Q3","t":7.0,"v":0.084},{"g":"Q3","t":7.22,"v":0.103},
{"g":"Q4 (Highest)","t":4.9,"v":0.029},{"g":"Q4 (Highest)","t":5.1,"v":0.029},{"g":"Q4 (Highest)","t":5.4,"v":0.029},{"g":"Q4 (Highest)","t":5.6,"v":0.029},{"g":"Q4 (Highest)","t":5.7,"v":0.029},{"g":"Q4 (Highest)","t":5.8,"v":0.032},{"g":"Q4 (Highest)","t":6.3,"v":0.044},{"g":"Q4 (Highest)","t":6.4,"v":0.044},{"g":"Q4 (Highest)","t":6.6,"v":0.044},{"g":"Q4 (Highest)","t":6.8,"v":0.044},{"g":"Q4 (Highest)","t":7.0,"v":0.044},{"g":"Q4 (Highest)","t":7.1,"v":0.044},{"g":"Q4 (Highest)","t":7.22,"v":0.065}
],
"Er": [
{"g":"Q1 (Lowest)","t":1,"n":"940"},{"g":"Q1 (Lowest)","t":2,"n":"892"},{"g":"Q1 (Lowest)","t":3,"n":"879"},{"g":"Q1 (Lowest)","t":4,"n":"850"},{"g":"Q1 (Lowest)","t":5,"n":"794"},{"g":"Q1 (Lowest)","t":6,"n":"700"},{"g":"Q1 (Lowest)","t":7,"n":"593"},
{"g":"Q2","t":1,"n":"1014"},{"g":"Q2","t":2,"n":"978"},{"g":"Q2","t":3,"n":"957"},{"g":"Q2","t":4,"n":"944"},{"g":"Q2","t":5,"n":"906"},{"g":"Q2","t":6,"n":"838"},{"g":"Q2","t":7,"n":"747"},
{"g":"Q3","t":1,"n":"1098"},{"g":"Q3","t":2,"n":"1077"},{"g":"Q3","t":3,"n":"1066"},{"g":"Q3","t":4,"n":"1058"},{"g":"Q3","t":5,"n":"1029"},{"g":"Q3","t":6,"n":"967"},{"g":"Q3","t":7,"n":"843"},
{"g":"Q4 (Highest)","t":1,"n":"1446"},{"g":"Q4 (Highest)","t":2,"n":"1435"},{"g":"Q4 (Highest)","t":3,"n":"1430"},{"g":"Q4 (Highest)","t":4,"n":"1422"},{"g":"Q4 (Highest)","t":5,"n":"1404"},{"g":"Q4 (Highest)","t":6,"n":"1322"},{"g":"Q4 (Highest)","t":7,"n":"1193"}
],
"Fc": [
{"g":"Q1 (Lowest)","t":0,"v":0,"lo":0,"hi":0},{"g":"Q1 (Lowest)","t":1.4,"v":0.003,"lo":0.001,"hi":0.005},{"g":"Q1 (Lowest)","t":1.7,"v":0.008,"lo":0.005,"hi":0.011},{"g":"Q1 (Lowest)","t":1.9,"v":0.012,"lo":0.008,"hi":0.016},{"g":"Q1 (Lowest)","t":2.1,"v":0.02,"lo":0.015,"hi":0.025},{"g":"Q1 (Lowest)","t":2.3,"v":0.03,"lo":0.024,"hi":0.036},{"g":"Q1 (Lowest)","t":2.4,"v":0.04,"lo":0.033,"hi":0.047},{"g":"Q1 (Lowest)","t":2.5,"v":0.055,"lo":0.047,"hi":0.063},{"g":"Q1 (Lowest)","t":2.6,"v":0.068,"lo":0.059,"hi":0.077},{"g":"Q1 (Lowest)","t":2.7,"v":0.08,"lo":0.07,"hi":0.09},{"g":"Q1 (Lowest)","t":2.9,"v":0.088,"lo":0.078,"hi":0.098},{"g":"Q1 (Lowest)","t":3.1,"v":0.091,"lo":0.081,"hi":0.101},{"g":"Q1 (Lowest)","t":6.0,"v":0.093,"lo":0.083,"hi":0.103},{"g":"Q1 (Lowest)","t":6.4,"v":0.097,"lo":0.087,"hi":0.108},{"g":"Q1 (Lowest)","t":6.6,"v":0.104,"lo":0.093,"hi":0.115},{"g":"Q1 (Lowest)","t":6.9,"v":0.109,"lo":0.098,"hi":0.12},{"g":"Q1 (Lowest)","t":7.1,"v":0.112,"lo":0.101,"hi":0.123},{"g":"Q1 (Lowest)","t":12.65,"v":0.112,"lo":0.101,"hi":0.123},
{"g":"Q2","t":0,"v":0,"lo":0,"hi":0},{"g":"Q2","t":1.5,"v":0.002,"lo":0.001,"hi":0.003},{"g":"Q2","t":2.0,"v":0.006,"lo":0.004,"hi":0.008},{"g":"Q2","t":2.2,"v":0.012,"lo":0.009,"hi":0.015},{"g":"Q2","t":2.4,"v":0.025,"lo":0.02,"hi":0.03},{"g":"Q2","t":2.5,"v":0.033,"lo":0.027,"hi":0.039},{"g":"Q2","t":2.6,"v":0.04,"lo":0.033,"hi":0.047},{"g":"Q2","t":2.8,"v":0.046,"lo":0.039,"hi":0.053},{"g":"Q2","t":3.0,"v":0.05,"lo":0.043,"hi":0.057},{"g":"Q2","t":6.2,"v":0.052,"lo":0.045,"hi":0.059},{"g":"Q2","t":6.6,"v":0.057,"lo":0.05,"hi":0.064},{"g":"Q2","t":6.9,"v":0.061,"lo":0.054,"hi":0.069},{"g":"Q2","t":7.1,"v":0.063,"lo":0.055,"hi":0.071},{"g":"Q2","t":12.65,"v":0.063,"lo":0.055,"hi":0.071},
{"g":"Q3","t":0,"v":0,"lo":0,"hi":0},{"g":"Q3","t":1.6,"v":0.001,"lo":0,"hi":0.002},{"g":"Q3","t":2.2,"v":0.005,"lo":0.003,"hi":0.007},{"g":"Q3","t":2.5,"v":0.012,"lo":0.009,"hi":0.015},{"g":"Q3","t":2.7,"v":0.017,"lo":0.013,"hi":0.021},{"g":"Q3","t":2.9,"v":0.02,"lo":0.016,"hi":0.024},{"g":"Q3","t":5.4,"v":0.021,"lo":0.017,"hi":0.025},{"g":"Q3","t":6.5,"v":0.024,"lo":0.02,"hi":0.028},{"g":"Q3","t":6.9,"v":0.027,"lo":0.022,"hi":0.032},{"g":"Q3","t":7.1,"v":0.028,"lo":0.023,"hi":0.033},{"g":"Q3","t":12.65,"v":0.028,"lo":0.023,"hi":0.033},
{"g":"Q4 (Highest)","t":0,"v":0,"lo":0,"hi":0},{"g":"Q4 (Highest)","t":1.6,"v":0.001,"lo":0,"hi":0.002},{"g":"Q4 (Highest)","t":2.3,"v":0.004,"lo":0.002,"hi":0.006},{"g":"Q4 (Highest)","t":2.7,"v":0.008,"lo":0.005,"hi":0.011},{"g":"Q4 (Highest)","t":3.0,"v":0.012,"lo":0.009,"hi":0.016},{"g":"Q4 (Highest)","t":5.4,"v":0.013,"lo":0.009,"hi":0.017},{"g":"Q4 (Highest)","t":6.5,"v":0.015,"lo":0.011,"hi":0.019},{"g":"Q4 (Highest)","t":7.0,"v":0.017,"lo":0.013,"hi":0.021},{"g":"Q4 (Highest)","t":12.65,"v":0.017,"lo":0.013,"hi":0.021}
],
"Fx": [
{"g":"Q1 (Lowest)","t":5.4,"v":0.091},{"g":"Q1 (Lowest)","t":5.6,"v":0.091},{"g":"Q1 (Lowest)","t":5.8,"v":0.091},{"g":"Q1 (Lowest)","t":6.0,"v":0.093},{"g":"Q1 (Lowest)","t":6.2,"v":0.093},{"g":"Q1 (Lowest)","t":6.4,"v":0.097},{"g":"Q1 (Lowest)","t":6.6,"v":0.104},{"g":"Q1 (Lowest)","t":6.8,"v":0.104},{"g":"Q1 (Lowest)","t":7.0,"v":0.109},{"g":"Q1 (Lowest)","t":7.2,"v":0.112},{"g":"Q1 (Lowest)","t":7.4,"v":0.112},{"g":"Q1 (Lowest)","t":7.6,"v":0.112},{"g":"Q1 (Lowest)","t":7.8,"v":0.112},{"g":"Q1 (Lowest)","t":8.0,"v":0.112},{"g":"Q1 (Lowest)","t":8.2,"v":0.112},{"g":"Q1 (Lowest)","t":8.4,"v":0.112},{"g":"Q1 (Lowest)","t":8.6,"v":0.112},{"g":"Q1 (Lowest)","t":8.8,"v":0.112},{"g":"Q1 (Lowest)","t":9.0,"v":0.112},{"g":"Q1 (Lowest)","t":9.2,"v":0.112},{"g":"Q1 (Lowest)","t":9.4,"v":0.112},{"g":"Q1 (Lowest)","t":9.6,"v":0.112},{"g":"Q1 (Lowest)","t":9.8,"v":0.112},{"g":"Q1 (Lowest)","t":10.0,"v":0.112},{"g":"Q1 (Lowest)","t":10.2,"v":0.112},{"g":"Q1 (Lowest)","t":10.4,"v":0.112},{"g":"Q1 (Lowest)","t":10.6,"v":0.112},{"g":"Q1 (Lowest)","t":10.8,"v":0.112},{"g":"Q1 (Lowest)","t":11.0,"v":0.112},{"g":"Q1 (Lowest)","t":11.2,"v":0.112},{"g":"Q1 (Lowest)","t":11.4,"v":0.112},{"g":"Q1 (Lowest)","t":11.6,"v":0.112},{"g":"Q1 (Lowest)","t":11.8,"v":0.112},{"g":"Q1 (Lowest)","t":12.0,"v":0.112},{"g":"Q1 (Lowest)","t":12.2,"v":0.112},{"g":"Q1 (Lowest)","t":12.4,"v":0.112},{"g":"Q1 (Lowest)","t":12.6,"v":0.112},
{"g":"Q2","t":5.4,"v":0.05},{"g":"Q2","t":5.6,"v":0.05},{"g":"Q2","t":5.8,"v":0.05},{"g":"Q2","t":6.0,"v":0.05},{"g":"Q2","t":6.2,"v":0.052},{"g":"Q2","t":6.4,"v":0.052},{"g":"Q2","t":6.6,"v":0.057},{"g":"Q2","t":6.8,"v":0.057},{"g":"Q2","t":7.0,"v":0.061},{"g":"Q2","t":7.2,"v":0.063},{"g":"Q2","t":7.4,"v":0.063},{"g":"Q2","t":7.6,"v":0.063},{"g":"Q2","t":7.8,"v":0.063},{"g":"Q2","t":8.0,"v":0.063},{"g":"Q2","t":8.2,"v":0.063},{"g":"Q2","t":8.4,"v":0.063},{"g":"Q2","t":8.6,"v":0.063},{"g":"Q2","t":8.8,"v":0.063},{"g":"Q2","t":9.0,"v":0.063},{"g":"Q2","t":9.2,"v":0.063},{"g":"Q2","t":9.4,"v":0.063},{"g":"Q2","t":9.6,"v":0.063},{"g":"Q2","t":9.8,"v":0.063},{"g":"Q2","t":10.0,"v":0.063},{"g":"Q2","t":10.2,"v":0.063},{"g":"Q2","t":10.4,"v":0.063},{"g":"Q2","t":10.6,"v":0.063},{"g":"Q2","t":10.8,"v":0.063},{"g":"Q2","t":11.0,"v":0.063},{"g":"Q2","t":11.2,"v":0.063},{"g":"Q2","t":11.4,"v":0.063},{"g":"Q2","t":11.6,"v":0.063},{"g":"Q2","t":11.8,"v":0.063},{"g":"Q2","t":12.0,"v":0.063},{"g":"Q2","t":12.2,"v":0.063},{"g":"Q2","t":12.4,"v":0.063},{"g":"Q2","t":12.6,"v":0.063},
{"g":"Q3","t":5.4,"v":0.021},{"g":"Q3","t":5.6,"v":0.021},{"g":"Q3","t":5.8,"v":0.021},{"g":"Q3","t":6.0,"v":0.021},{"g":"Q3","t":6.2,"v":0.021},{"g":"Q3","t":6.4,"v":0.021},{"g":"Q3","t":6.6,"v":0.024},{"g":"Q3","t":6.8,"v":0.024},{"g":"Q3","t":7.0,"v":0.027},{"g":"Q3","t":7.2,"v":0.028},{"g":"Q3","t":7.4,"v":0.028},{"g":"Q3","t":7.6,"v":0.028},{"g":"Q3","t":7.8,"v":0.028},{"g":"Q3","t":8.0,"v":0.028},{"g":"Q3","t":8.2,"v":0.028},{"g":"Q3","t":8.4,"v":0.028},{"g":"Q3","t":8.6,"v":0.028},{"g":"Q3","t":8.8,"v":0.028},{"g":"Q3","t":9.0,"v":0.028},{"g":"Q3","t":9.2,"v":0.028},{"g":"Q3","t":9.4,"v":0.028},{"g":"Q3","t":9.6,"v":0.028},{"g":"Q3","t":9.8,"v":0.028},{"g":"Q3","t":10.0,"v":0.028},{"g":"Q3","t":10.2,"v":0.028},{"g":"Q3","t":10.4,"v":0.028},{"g":"Q3","t":10.6,"v":0.028},{"g":"Q3","t":10.8,"v":0.028},{"g":"Q3","t":11.0,"v":0.028},{"g":"Q3","t":11.2,"v":0.028},{"g":"Q3","t":11.4,"v":0.028},{"g":"Q3","t":11.6,"v":0.028},{"g":"Q3","t":11.8,"v":0.028},{"g":"Q3","t":12.0,"v":0.028},{"g":"Q3","t":12.2,"v":0.028},{"g":"Q3","t":12.4,"v":0.028},{"g":"Q3","t":12.6,"v":0.028},
{"g":"Q4 (Highest)","t":5.4,"v":0.013},{"g":"Q4 (Highest)","t":5.6,"v":0.013},{"g":"Q4 (Highest)","t":5.8,"v":0.013},{"g":"Q4 (Highest)","t":6.0,"v":0.013},{"g":"Q4 (Highest)","t":6.2,"v":0.013},{"g":"Q4 (Highest)","t":6.4,"v":0.013},{"g":"Q4 (Highest)","t":6.6,"v":0.015},{"g":"Q4 (Highest)","t":6.8,"v":0.015},{"g":"Q4 (Highest)","t":7.0,"v":0.017},{"g":"Q4 (Highest)","t":7.2,"v":0.017},{"g":"Q4 (Highest)","t":7.4,"v":0.017},{"g":"Q4 (Highest)","t":7.6,"v":0.017},{"g":"Q4 (Highest)","t":7.8,"v":0.017},{"g":"Q4 (Highest)","t":8.0,"v":0.017},{"g":"Q4 (Highest)","t":8.2,"v":0.017},{"g":"Q4 (Highest)","t":8.4,"v":0.017},{"g":"Q4 (Highest)","t":8.6,"v":0.017},{"g":"Q4 (Highest)","t":8.8,"v":0.017},{"g":"Q4 (Highest)","t":9.0,"v":0.017},{"g":"Q4 (Highest)","t":9.2,"v":0.017},{"g":"Q4 (Highest)","t":9.4,"v":0.017},{"g":"Q4 (Highest)","t":9.6,"v":0.017},{"g":"Q4 (Highest)","t":9.8,"v":0.017},{"g":"Q4 (Highest)","t":10.0,"v":0.017},{"g":"Q4 (Highest)","t":10.2,"v":0.017},{"g":"Q4 (Highest)","t":10.4,"v":0.017},{"g":"Q4 (Highest)","t":10.6,"v":0.017},{"g":"Q4 (Highest)","t":10.8,"v":0.017},{"g":"Q4 (Highest)","t":11.0,"v":0.017},{"g":"Q4 (Highest)","t":11.2,"v":0.017},{"g":"Q4 (Highest)","t":11.4,"v":0.017},{"g":"Q4 (Highest)","t":11.6,"v":0.017},{"g":"Q4 (Highest)","t":11.8,"v":0.017},{"g":"Q4 (Highest)","t":12.0,"v":0.017},{"g":"Q4 (Highest)","t":12.2,"v":0.017},{"g":"Q4 (Highest)","t":12.4,"v":0.017},{"g":"Q4 (Highest)","t":12.6,"v":0.017}
],
"Fr": [
{"g":"Q1 (Lowest)","t":0,"n":"2636"},{"g":"Q1 (Lowest)","t":2.5,"n":"2501"},{"g":"Q1 (Lowest)","t":5,"n":"2396"},{"g":"Q1 (Lowest)","t":7.5,"n":"1979"},{"g":"Q1 (Lowest)","t":10,"n":"1623"},{"g":"Q1 (Lowest)","t":12.5,"n":"1254"},
{"g":"Q2","t":0,"n":"2648"},{"g":"Q2","t":2.5,"n":"2583"},{"g":"Q2","t":5,"n":"2516"},{"g":"Q2","t":7.5,"n":"2147"},{"g":"Q2","t":10,"n":"1777"},{"g":"Q2","t":12.5,"n":"1383"},
{"g":"Q3","t":0,"n":"2571"},{"g":"Q3","t":2.5,"n":"2543"},{"g":"Q3","t":5,"n":"2518"},{"g":"Q3","t":7.5,"n":"2127"},{"g":"Q3","t":10,"n":"1746"},{"g":"Q3","t":12.5,"n":"1340"},
{"g":"Q4 (Highest)","t":0,"n":"2190"},{"g":"Q4 (Highest)","t":2.5,"n":"2176"},{"g":"Q4 (Highest)","t":5,"n":"2163"},{"g":"Q4 (Highest)","t":7.5,"n":"1848"},{"g":"Q4 (Highest)","t":10,"n":"1534"},{"g":"Q4 (Highest)","t":12.5,"n":"1209"}
]
},
"spacing": 0,
"resolve": {"scale": {"x": "independent", "y": "independent", "color": "independent", "stroke": "independent", "fill": "independent"}, "legend": {"color": "independent", "stroke": "independent", "fill": "independent"}},
"vconcat": [
{"hconcat": [
 {"title": {"text": "A", "orient": "left", "anchor": "end", "angle": 0, "align": "right", "baseline": "top", "fontSize": 14, "fontWeight": "bold", "offset": -6, "dy": -10},
  "columns": 1, "spacing": 5, "align": "none",
  "resolve": {"scale": {"x": "independent", "y": "independent", "color": "independent", "stroke": "independent", "fill": "independent"}, "legend": {"color": "independent", "stroke": "independent", "fill": "independent"}},
  "concat": [
  {"width": 334, "height": 130,
   "title": {"text": "Cumulative Incidence of Osteoporosis by Sarcopenia Status(ELSA Database)"},
   "layer": [
     {"data": {"name": "Ac"}, "mark": {"type": "area", "interpolate": "step-after", "opacity": 0.5},
      "encoding": {
       "x": {"field": "t", "type": "quantitative", "scale": {"domain": [-0.6, 12.5], "nice": false, "zero": false}, "axis": {"values": [0, 3, 6, 9, 12], "format": ".3~g", "title": "Time (Years)"}},
       "y": {"field": "lo", "type": "quantitative", "scale": {"domain": [-0.011, 0.245], "nice": false, "zero": false}, "axis": {"values": [0, 0.05, 0.1, 0.15, 0.2], "format": ".2f", "title": "Cumulative Incidence of Osteoporosis"}},
       "y2": {"field": "hi"},
       "fill": {"field": "g", "type": "nominal", "scale": {"domain": ["Non−Sarcopenia", "Sarcopenia"], "range": ["#7D9BD6", "#EE8A62"]}, "legend": {"title": "Sarcopenia Status"}}}},
     {"data": {"name": "Ac"}, "mark": {"type": "line", "interpolate": "step-after", "strokeWidth": 1.2},
      "encoding": {
       "x": {"field": "t", "type": "quantitative", "scale": {"domain": [-0.6, 12.5], "nice": false, "zero": false}, "axis": {"values": [0, 3, 6, 9, 12], "format": ".3~g", "title": "Time (Years)"}},
       "y": {"field": "v", "type": "quantitative", "scale": {"domain": [-0.011, 0.245], "nice": false, "zero": false}, "axis": {"values": [0, 0.05, 0.1, 0.15, 0.2], "format": ".2f", "title": "Cumulative Incidence of Osteoporosis"}},
       "stroke": {"field": "g", "type": "nominal", "scale": {"domain": ["Non−Sarcopenia", "Sarcopenia"], "range": ["#377EB8", "#E41A1C"]}, "legend": {"title": "Sarcopenia Status"}}}},
     {"data": {"name": "Ax"}, "mark": {"type": "point", "shape": "M-1,0L1,0M0,-1L0,1", "filled": false, "size": 20, "strokeWidth": 1, "opacity": 1},
      "encoding": {
       "x": {"field": "t", "type": "quantitative", "scale": {"domain": [-0.6, 12.5], "nice": false, "zero": false}, "axis": {"values": [0, 3, 6, 9, 12], "format": ".3~g", "title": "Time (Years)"}},
       "y": {"field": "v", "type": "quantitative", "scale": {"domain": [-0.011, 0.245], "nice": false, "zero": false}, "axis": {"values": [0, 0.05, 0.1, 0.15, 0.2], "format": ".2f", "title": "Cumulative Incidence of Osteoporosis"}},
       "stroke": {"field": "g", "type": "nominal", "scale": {"domain": ["Non−Sarcopenia", "Sarcopenia"], "range": ["#377EB8", "#E41A1C"]}, "legend": {"title": "Sarcopenia Status"}}}},
     {"data": {"values": [{"s": "p < 0.0001"}]}, "mark": {"type": "text", "align": "left", "fontSize": 8.8, "color": "#000000"},
      "encoding": {
       "x": {"datum": 0.25, "type": "quantitative", "scale": {"domain": [-0.6, 12.5], "nice": false, "zero": false}, "axis": {"values": [0, 3, 6, 9, 12], "format": ".3~g", "title": "Time (Years)"}},
       "y": {"datum": 0.2, "type": "quantitative", "scale": {"domain": [-0.011, 0.245], "nice": false, "zero": false}, "axis": {"values": [0, 0.05, 0.1, 0.15, 0.2], "format": ".2f", "title": "Cumulative Incidence of Osteoporosis"}},
       "text": {"field": "s"}}}
   ]},
  {"width": 334, "height": 47,
   "title": {"text": "Number at risk", "anchor": "start", "frame": "group", "fontSize": 8, "fontWeight": "normal", "offset": -4, "dx": 30},
   "data": {"name": "Ar"},
   "mark": {"type": "text", "fontSize": 8.5},
   "encoding": {
     "x": {"field": "t", "type": "quantitative", "scale": {"domain": [-0.6, 12.55], "range": [30, 334], "nice": false, "zero": false}, "axis": {"values": [0, 3, 6, 9, 12], "format": ".3~g", "title": "Time (Years)", "labelColor": "#4D4D4D", "labelPadding": 2, "titlePadding": -1}},
     "y": {"field": "g", "type": "nominal", "scale": {"type": "point", "padding": 0.5, "domain": ["Non−Sarcopenia", "Sarcopenia"]}, "axis": {"offset": -30, "title": "Sarcopenia Status", "titleFontSize": 7, "labelFontSize": 5.6, "labelColor": {"condition": {"test": "datum.value === 'Sarcopenia'", "value": "#E41A1C"}, "value": "#377EB8"}}},
     "text": {"field": "n", "type": "nominal"},
     "color": {"field": "g", "type": "nominal", "scale": {"domain": ["Non−Sarcopenia", "Sarcopenia"], "range": ["#377EB8", "#E41A1C"]}, "legend": null}}}
 ]},
 {"title": {"text": "D", "orient": "left", "anchor": "end", "angle": 0, "align": "right", "baseline": "top", "fontSize": 14, "fontWeight": "bold", "offset": -6, "dy": -10},
  "columns": 1, "spacing": 5, "align": "none",
  "resolve": {"scale": {"x": "independent", "y": "independent", "color": "independent", "stroke": "independent", "fill": "independent"}, "legend": {"color": "independent", "stroke": "independent", "fill": "independent"}},
  "concat": [
  {"width": 334, "height": 130,
   "title": {"text": "Cumulative Incidence of Osteoporosis by BMR Quartiles (ELSA Database)"},
   "layer": [
     {"data": {"name": "Dc"}, "mark": {"type": "area", "interpolate": "step-after", "opacity": 0.45},
      "encoding": {
       "x": {"field": "t", "type": "quantitative", "scale": {"domain": [-0.6, 12.5], "nice": false, "zero": false}, "axis": {"values": [0, 3, 6, 9, 12], "format": ".3~g", "title": "Time (Years)"}},
       "y": {"field": "lo", "type": "quantitative", "scale": {"domain": [-0.0105, 0.228], "nice": false, "zero": false}, "axis": {"values": [0, 0.05, 0.1, 0.15, 0.2], "format": ".2f", "title": "Cumulative Incidence of Osteoporosis"}},
       "y2": {"field": "hi"},
       "fill": {"field": "g", "type": "nominal", "scale": {"domain": ["Q1 (Lowest)", "Q2", "Q3", "Q4 (Highest)"], "range": ["#EE8A62", "#FDB56F", "#7D9BD6", "#8FCB7E"]}, "legend": {"title": "BMR Quartiles"}}}},
     {"data": {"name": "Dc"}, "mark": {"type": "line", "interpolate": "step-after", "strokeWidth": 1.2},
      "encoding": {
       "x": {"field": "t", "type": "quantitative", "scale": {"domain": [-0.6, 12.5], "nice": false, "zero": false}, "axis": {"values": [0, 3, 6, 9, 12], "format": ".3~g", "title": "Time (Years)"}},
       "y": {"field": "v", "type": "quantitative", "scale": {"domain": [-0.0105, 0.228], "nice": false, "zero": false}, "axis": {"values": [0, 0.05, 0.1, 0.15, 0.2], "format": ".2f", "title": "Cumulative Incidence of Osteoporosis"}},
       "stroke": {"field": "g", "type": "nominal", "scale": {"domain": ["Q1 (Lowest)", "Q2", "Q3", "Q4 (Highest)"], "range": ["#E41A1C", "#FF7F00", "#377EB8", "#4DAF4A"]}, "legend": {"title": "BMR Quartiles"}}}},
     {"data": {"name": "Dx"}, "mark": {"type": "point", "shape": "M-1,0L1,0M0,-1L0,1", "filled": false, "size": 20, "strokeWidth": 1, "opacity": 1},
      "encoding": {
       "x": {"field": "t", "type": "quantitative", "scale": {"domain": [-0.6, 12.5], "nice": false, "zero": false}, "axis": {"values": [0, 3, 6, 9, 12], "format": ".3~g", "title": "Time (Years)"}},
       "y": {"field": "v", "type": "quantitative", "scale": {"domain": [-0.0105, 0.228], "nice": false, "zero": false}, "axis": {"values": [0, 0.05, 0.1, 0.15, 0.2], "format": ".2f", "title": "Cumulative Incidence of Osteoporosis"}},
       "stroke": {"field": "g", "type": "nominal", "scale": {"domain": ["Q1 (Lowest)", "Q2", "Q3", "Q4 (Highest)"], "range": ["#E41A1C", "#FF7F00", "#377EB8", "#4DAF4A"]}, "legend": {"title": "BMR Quartiles"}}}},
     {"data": {"values": [{"s": "p < 0.0001"}]}, "mark": {"type": "text", "align": "left", "fontSize": 8.8, "color": "#000000"},
      "encoding": {
       "x": {"datum": 0.25, "type": "quantitative", "scale": {"domain": [-0.6, 12.5], "nice": false, "zero": false}, "axis": {"values": [0, 3, 6, 9, 12], "format": ".3~g", "title": "Time (Years)"}},
       "y": {"datum": 0.2, "type": "quantitative", "scale": {"domain": [-0.0105, 0.228], "nice": false, "zero": false}, "axis": {"values": [0, 0.05, 0.1, 0.15, 0.2], "format": ".2f", "title": "Cumulative Incidence of Osteoporosis"}},
       "text": {"field": "s"}}}
   ]},
  {"width": 334, "height": 47,
   "title": {"text": "Number at risk", "anchor": "start", "frame": "group", "fontSize": 8, "fontWeight": "normal", "offset": 1, "dx": 21},
   "data": {"name": "Dr"},
   "mark": {"type": "text", "fontSize": 8.5},
   "encoding": {
     "x": {"field": "t", "type": "quantitative", "scale": {"domain": [-0.6, 12.55], "range": [21, 334], "nice": false, "zero": false}, "axis": {"values": [0, 3, 6, 9, 12], "format": ".3~g", "title": "Time (Years)", "labelColor": "#4D4D4D", "labelPadding": 2, "titlePadding": -1}},
     "y": {"field": "g", "type": "nominal", "scale": {"type": "point", "padding": 0.6, "domain": ["Q1 (Lowest)", "Q2", "Q3", "Q4 (Highest)"]}, "axis": {"offset": -21, "title": "BMR Quartiles", "titleFontSize": 7, "labelFontSize": 5.6, "labelColor": {"condition": [{"test": "datum.value === 'Q1 (Lowest)'", "value": "#E41A1C"}, {"test": "datum.value === 'Q2'", "value": "#FF7F00"}, {"test": "datum.value === 'Q3'", "value": "#377EB8"}], "value": "#4DAF4A"}}},
     "text": {"field": "n", "type": "nominal"},
     "color": {"field": "g", "type": "nominal", "scale": {"domain": ["Q1 (Lowest)", "Q2", "Q3", "Q4 (Highest)"], "range": ["#E41A1C", "#FF7F00", "#377EB8", "#4DAF4A"]}, "legend": null}}}
 ]}
], "spacing": 11, "resolve": {"scale": {"x": "independent", "y": "independent", "color": "independent", "stroke": "independent", "fill": "independent"}, "legend": {"color": "independent", "stroke": "independent", "fill": "independent"}}},
{"hconcat": [
 {"title": {"text": "B", "orient": "left", "anchor": "end", "angle": 0, "align": "right", "baseline": "top", "fontSize": 14, "fontWeight": "bold", "offset": -6, "dy": -10},
  "columns": 1, "spacing": 5, "align": "none",
  "resolve": {"scale": {"x": "independent", "y": "independent", "color": "independent", "stroke": "independent", "fill": "independent"}, "legend": {"color": "independent", "stroke": "independent", "fill": "independent"}},
  "concat": [
  {"width": 336, "height": 130,
   "title": {"text": "Cumulative Incidence of Osteoporosis by Sarcopenia Status(HRS Database)"},
   "layer": [
     {"data": {"name": "Bc"}, "mark": {"type": "area", "interpolate": "step-after", "opacity": 0.5},
      "encoding": {
       "x": {"field": "t", "type": "quantitative", "scale": {"domain": [-0.33, 7.32], "nice": false, "zero": false}, "axis": {"values": [0, 2, 4, 6], "format": ".3~g", "title": "Time (Years)"}},
       "y": {"field": "lo", "type": "quantitative", "scale": {"domain": [-0.013, 0.303], "nice": false, "zero": false}, "axis": {"values": [0, 0.1, 0.2, 0.3], "format": ".1f", "title": "Cumulative Incidence of Osteoporosis"}},
       "y2": {"field": "hi"},
       "fill": {"field": "g", "type": "nominal", "scale": {"domain": ["Non−Sarcopenia", "Sarcopenia"], "range": ["#7D9BD6", "#EE8A62"]}, "legend": {"title": "Sarcopenia Status"}}}},
     {"data": {"name": "Bc"}, "mark": {"type": "line", "interpolate": "step-after", "strokeWidth": 1.2},
      "encoding": {
       "x": {"field": "t", "type": "quantitative", "scale": {"domain": [-0.33, 7.32], "nice": false, "zero": false}, "axis": {"values": [0, 2, 4, 6], "format": ".3~g", "title": "Time (Years)"}},
       "y": {"field": "v", "type": "quantitative", "scale": {"domain": [-0.013, 0.303], "nice": false, "zero": false}, "axis": {"values": [0, 0.1, 0.2, 0.3], "format": ".1f", "title": "Cumulative Incidence of Osteoporosis"}},
       "stroke": {"field": "g", "type": "nominal", "scale": {"domain": ["Non−Sarcopenia", "Sarcopenia"], "range": ["#377EB8", "#E41A1C"]}, "legend": {"title": "Sarcopenia Status"}}}},
     {"data": {"name": "Bx"}, "mark": {"type": "point", "shape": "M-1,0L1,0M0,-1L0,1", "filled": false, "size": 20, "strokeWidth": 1, "opacity": 1},
      "encoding": {
       "x": {"field": "t", "type": "quantitative", "scale": {"domain": [-0.33, 7.32], "nice": false, "zero": false}, "axis": {"values": [0, 2, 4, 6], "format": ".3~g", "title": "Time (Years)"}},
       "y": {"field": "v", "type": "quantitative", "scale": {"domain": [-0.013, 0.303], "nice": false, "zero": false}, "axis": {"values": [0, 0.1, 0.2, 0.3], "format": ".1f", "title": "Cumulative Incidence of Osteoporosis"}},
       "stroke": {"field": "g", "type": "nominal", "scale": {"domain": ["Non−Sarcopenia", "Sarcopenia"], "range": ["#377EB8", "#E41A1C"]}, "legend": {"title": "Sarcopenia Status"}}}},
     {"data": {"values": [{"s": "p < 0.0001"}]}, "mark": {"type": "text", "align": "left", "fontSize": 8.8, "color": "#000000"},
      "encoding": {
       "x": {"datum": 0.15, "type": "quantitative", "scale": {"domain": [-0.33, 7.32], "nice": false, "zero": false}, "axis": {"values": [0, 2, 4, 6], "format": ".3~g", "title": "Time (Years)"}},
       "y": {"datum": 0.2, "type": "quantitative", "scale": {"domain": [-0.013, 0.303], "nice": false, "zero": false}, "axis": {"values": [0, 0.1, 0.2, 0.3], "format": ".1f", "title": "Cumulative Incidence of Osteoporosis"}},
       "text": {"field": "s"}}}
   ]},
  {"width": 336, "height": 47,
   "title": {"text": "Number at risk", "anchor": "start", "frame": "group", "fontSize": 8, "fontWeight": "normal", "offset": -4, "dx": 32},
   "data": {"name": "Br"},
   "mark": {"type": "text", "fontSize": 8.5},
   "encoding": {
     "x": {"field": "t", "type": "quantitative", "scale": {"domain": [-0.35, 7.33], "range": [32, 336], "nice": false, "zero": false}, "axis": {"values": [1, 2, 3, 4, 5, 6, 7], "format": ".3~g", "title": "Time (Years)", "labelColor": "#4D4D4D", "labelPadding": 2, "titlePadding": -1}},
     "y": {"field": "g", "type": "nominal", "scale": {"type": "point", "padding": 0.5, "domain": ["Non−Sarcopenia", "Sarcopenia"]}, "axis": {"offset": -32, "title": "Sarcopenia Status", "titleFontSize": 7, "labelFontSize": 5.6, "labelColor": {"condition": {"test": "datum.value === 'Sarcopenia'", "value": "#E41A1C"}, "value": "#377EB8"}}},
     "text": {"field": "n", "type": "nominal"},
     "color": {"field": "g", "type": "nominal", "scale": {"domain": ["Non−Sarcopenia", "Sarcopenia"], "range": ["#377EB8", "#E41A1C"]}, "legend": null}}}
 ]},
 {"title": {"text": "E", "orient": "left", "anchor": "end", "angle": 0, "align": "right", "baseline": "top", "fontSize": 14, "fontWeight": "bold", "offset": -6, "dy": -10},
  "columns": 1, "spacing": 5, "align": "none",
  "resolve": {"scale": {"x": "independent", "y": "independent", "color": "independent", "stroke": "independent", "fill": "independent"}, "legend": {"color": "independent", "stroke": "independent", "fill": "independent"}},
  "concat": [
  {"width": 337, "height": 130,
   "title": {"text": "Cumulative Incidence of Osteoporosis by BMR Quartiles (HRS Database)"},
   "layer": [
     {"data": {"name": "Ec"}, "mark": {"type": "area", "interpolate": "step-after", "opacity": 0.45},
      "encoding": {
       "x": {"field": "t", "type": "quantitative", "scale": {"domain": [-0.33, 7.32], "nice": false, "zero": false}, "axis": {"values": [0, 2, 4, 6], "format": ".3~g", "title": "Time (Years)"}},
       "y": {"field": "lo", "type": "quantitative", "scale": {"domain": [-0.013, 0.305], "nice": false, "zero": false}, "axis": {"values": [0, 0.1, 0.2, 0.3], "format": ".1f", "title": "Cumulative Incidence of Osteoporosis"}},
       "y2": {"field": "hi"},
       "fill": {"field": "g", "type": "nominal", "scale": {"domain": ["Q1 (Lowest)", "Q2", "Q3", "Q4 (Highest)"], "range": ["#EE8A62", "#FDB56F", "#7D9BD6", "#8FCB7E"]}, "legend": {"title": "BMR Quartiles"}}}},
     {"data": {"name": "Ec"}, "mark": {"type": "line", "interpolate": "step-after", "strokeWidth": 1.2},
      "encoding": {
       "x": {"field": "t", "type": "quantitative", "scale": {"domain": [-0.33, 7.32], "nice": false, "zero": false}, "axis": {"values": [0, 2, 4, 6], "format": ".3~g", "title": "Time (Years)"}},
       "y": {"field": "v", "type": "quantitative", "scale": {"domain": [-0.013, 0.305], "nice": false, "zero": false}, "axis": {"values": [0, 0.1, 0.2, 0.3], "format": ".1f", "title": "Cumulative Incidence of Osteoporosis"}},
       "stroke": {"field": "g", "type": "nominal", "scale": {"domain": ["Q1 (Lowest)", "Q2", "Q3", "Q4 (Highest)"], "range": ["#E41A1C", "#FF7F00", "#377EB8", "#4DAF4A"]}, "legend": {"title": "BMR Quartiles"}}}},
     {"data": {"name": "Ex"}, "mark": {"type": "point", "shape": "M-1,0L1,0M0,-1L0,1", "filled": false, "size": 20, "strokeWidth": 1, "opacity": 1},
      "encoding": {
       "x": {"field": "t", "type": "quantitative", "scale": {"domain": [-0.33, 7.32], "nice": false, "zero": false}, "axis": {"values": [0, 2, 4, 6], "format": ".3~g", "title": "Time (Years)"}},
       "y": {"field": "v", "type": "quantitative", "scale": {"domain": [-0.013, 0.305], "nice": false, "zero": false}, "axis": {"values": [0, 0.1, 0.2, 0.3], "format": ".1f", "title": "Cumulative Incidence of Osteoporosis"}},
       "stroke": {"field": "g", "type": "nominal", "scale": {"domain": ["Q1 (Lowest)", "Q2", "Q3", "Q4 (Highest)"], "range": ["#E41A1C", "#FF7F00", "#377EB8", "#4DAF4A"]}, "legend": {"title": "BMR Quartiles"}}}},
     {"data": {"values": [{"s": "p < 0.0001"}]}, "mark": {"type": "text", "align": "left", "fontSize": 8.8, "color": "#000000"},
      "encoding": {
       "x": {"datum": 0.15, "type": "quantitative", "scale": {"domain": [-0.33, 7.32], "nice": false, "zero": false}, "axis": {"values": [0, 2, 4, 6], "format": ".3~g", "title": "Time (Years)"}},
       "y": {"datum": 0.2, "type": "quantitative", "scale": {"domain": [-0.013, 0.305], "nice": false, "zero": false}, "axis": {"values": [0, 0.1, 0.2, 0.3], "format": ".1f", "title": "Cumulative Incidence of Osteoporosis"}},
       "text": {"field": "s"}}}
   ]},
  {"width": 337, "height": 47,
   "title": {"text": "Number at risk", "anchor": "start", "frame": "group", "fontSize": 8, "fontWeight": "normal", "offset": 1, "dx": 24},
   "data": {"name": "Er"},
   "mark": {"type": "text", "fontSize": 8.5},
   "encoding": {
     "x": {"field": "t", "type": "quantitative", "scale": {"domain": [-0.35, 7.33], "range": [24, 337], "nice": false, "zero": false}, "axis": {"values": [1, 2, 3, 4, 5, 6, 7], "format": ".3~g", "title": "Time (Years)", "labelColor": "#4D4D4D", "labelPadding": 2, "titlePadding": -1}},
     "y": {"field": "g", "type": "nominal", "scale": {"type": "point", "padding": 0.6, "domain": ["Q1 (Lowest)", "Q2", "Q3", "Q4 (Highest)"]}, "axis": {"offset": -24, "title": "BMR Quartiles", "titleFontSize": 7, "labelFontSize": 5.6, "labelColor": {"condition": [{"test": "datum.value === 'Q1 (Lowest)'", "value": "#E41A1C"}, {"test": "datum.value === 'Q2'", "value": "#FF7F00"}, {"test": "datum.value === 'Q3'", "value": "#377EB8"}], "value": "#4DAF4A"}}},
     "text": {"field": "n", "type": "nominal"},
     "color": {"field": "g", "type": "nominal", "scale": {"domain": ["Q1 (Lowest)", "Q2", "Q3", "Q4 (Highest)"], "range": ["#E41A1C", "#FF7F00", "#377EB8", "#4DAF4A"]}, "legend": null}}}
 ]}
], "spacing": 11, "resolve": {"scale": {"x": "independent", "y": "independent", "color": "independent", "stroke": "independent", "fill": "independent"}, "legend": {"color": "independent", "stroke": "independent", "fill": "independent"}}},
{"hconcat": [
 {"title": {"text": "C", "orient": "left", "anchor": "end", "angle": 0, "align": "right", "baseline": "top", "fontSize": 14, "fontWeight": "bold", "offset": -6, "dy": -10},
  "columns": 1, "spacing": 5, "align": "none",
  "resolve": {"scale": {"x": "independent", "y": "independent", "color": "independent", "stroke": "independent", "fill": "independent"}, "legend": {"color": "independent", "stroke": "independent", "fill": "independent"}},
  "concat": [
  {"width": 335, "height": 130,
   "title": {"text": "Cumulative Incidence of Osteoporosis by Sarcopenia Status(SHARE Database)"},
   "layer": [
     {"data": {"name": "Cc"}, "mark": {"type": "area", "interpolate": "step-after", "opacity": 0.5},
      "encoding": {
       "x": {"field": "t", "type": "quantitative", "scale": {"domain": [-0.65, 13.03], "nice": false, "zero": false}, "axis": {"values": [0, 2.5, 5, 7.5, 10, 12.5], "format": ".3~g", "title": "Time (Years)"}},
       "y": {"field": "lo", "type": "quantitative", "scale": {"domain": [-0.009, 0.21], "nice": false, "zero": false}, "axis": {"values": [0, 0.05, 0.1, 0.15, 0.2], "format": ".2f", "title": "Cumulative Incidence of Osteoporosis"}},
       "y2": {"field": "hi"},
       "fill": {"field": "g", "type": "nominal", "scale": {"domain": ["Non−Sarcopenia", "Sarcopenia"], "range": ["#7D9BD6", "#EE8A62"]}, "legend": {"title": "Sarcopenia Status"}}}},
     {"data": {"name": "Cc"}, "mark": {"type": "line", "interpolate": "step-after", "strokeWidth": 1.2},
      "encoding": {
       "x": {"field": "t", "type": "quantitative", "scale": {"domain": [-0.65, 13.03], "nice": false, "zero": false}, "axis": {"values": [0, 2.5, 5, 7.5, 10, 12.5], "format": ".3~g", "title": "Time (Years)"}},
       "y": {"field": "v", "type": "quantitative", "scale": {"domain": [-0.009, 0.21], "nice": false, "zero": false}, "axis": {"values": [0, 0.05, 0.1, 0.15, 0.2], "format": ".2f", "title": "Cumulative Incidence of Osteoporosis"}},
       "stroke": {"field": "g", "type": "nominal", "scale": {"domain": ["Non−Sarcopenia", "Sarcopenia"], "range": ["#377EB8", "#E41A1C"]}, "legend": {"title": "Sarcopenia Status"}}}},
     {"data": {"name": "Cx"}, "mark": {"type": "point", "shape": "M-1,0L1,0M0,-1L0,1", "filled": false, "size": 20, "strokeWidth": 1, "opacity": 1},
      "encoding": {
       "x": {"field": "t", "type": "quantitative", "scale": {"domain": [-0.65, 13.03], "nice": false, "zero": false}, "axis": {"values": [0, 2.5, 5, 7.5, 10, 12.5], "format": ".3~g", "title": "Time (Years)"}},
       "y": {"field": "v", "type": "quantitative", "scale": {"domain": [-0.009, 0.21], "nice": false, "zero": false}, "axis": {"values": [0, 0.05, 0.1, 0.15, 0.2], "format": ".2f", "title": "Cumulative Incidence of Osteoporosis"}},
       "stroke": {"field": "g", "type": "nominal", "scale": {"domain": ["Non−Sarcopenia", "Sarcopenia"], "range": ["#377EB8", "#E41A1C"]}, "legend": {"title": "Sarcopenia Status"}}}},
     {"data": {"values": [{"s": "p < 0.0001"}]}, "mark": {"type": "text", "align": "left", "fontSize": 8.8, "color": "#000000"},
      "encoding": {
       "x": {"datum": 0.25, "type": "quantitative", "scale": {"domain": [-0.65, 13.03], "nice": false, "zero": false}, "axis": {"values": [0, 2.5, 5, 7.5, 10, 12.5], "format": ".3~g", "title": "Time (Years)"}},
       "y": {"datum": 0.2, "type": "quantitative", "scale": {"domain": [-0.009, 0.21], "nice": false, "zero": false}, "axis": {"values": [0, 0.05, 0.1, 0.15, 0.2], "format": ".2f", "title": "Cumulative Incidence of Osteoporosis"}},
       "text": {"field": "s"}}}
   ]},
  {"width": 335, "height": 47,
   "title": {"text": "Number at risk", "anchor": "start", "frame": "group", "fontSize": 8, "fontWeight": "normal", "offset": -4, "dx": 31},
   "data": {"name": "Cr"},
   "mark": {"type": "text", "fontSize": 8.5},
   "encoding": {
     "x": {"field": "t", "type": "quantitative", "scale": {"domain": [-0.63, 12.97], "range": [31, 335], "nice": false, "zero": false}, "axis": {"values": [0, 2.5, 5, 7.5, 10, 12.5], "format": ".3~g", "title": "Time (Years)", "labelColor": "#4D4D4D", "labelPadding": 2, "titlePadding": -1}},
     "y": {"field": "g", "type": "nominal", "scale": {"type": "point", "padding": 0.5, "domain": ["Non−Sarcopenia", "Sarcopenia"]}, "axis": {"offset": -31, "title": "Sarcopenia Status", "titleFontSize": 7, "labelFontSize": 5.6, "labelColor": {"condition": {"test": "datum.value === 'Sarcopenia'", "value": "#E41A1C"}, "value": "#377EB8"}}},
     "text": {"field": "n", "type": "nominal"},
     "color": {"field": "g", "type": "nominal", "scale": {"domain": ["Non−Sarcopenia", "Sarcopenia"], "range": ["#377EB8", "#E41A1C"]}, "legend": null}}}
 ]},
 {"title": {"text": "F", "orient": "left", "anchor": "end", "angle": 0, "align": "right", "baseline": "top", "fontSize": 14, "fontWeight": "bold", "offset": -6, "dy": -10},
  "columns": 1, "spacing": 5, "align": "none",
  "resolve": {"scale": {"x": "independent", "y": "independent", "color": "independent", "stroke": "independent", "fill": "independent"}, "legend": {"color": "independent", "stroke": "independent", "fill": "independent"}},
  "concat": [
  {"width": 336, "height": 130,
   "title": {"text": "Cumulative Incidence of Osteoporosis by BMR Quartiles (SHARE Database)"},
   "layer": [
     {"data": {"name": "Fc"}, "mark": {"type": "area", "interpolate": "step-after", "opacity": 0.45},
      "encoding": {
       "x": {"field": "t", "type": "quantitative", "scale": {"domain": [-0.65, 13.03], "nice": false, "zero": false}, "axis": {"values": [0, 2.5, 5, 7.5, 10, 12.5], "format": ".3~g", "title": "Time (Years)"}},
       "y": {"field": "lo", "type": "quantitative", "scale": {"domain": [-0.009, 0.21], "nice": false, "zero": false}, "axis": {"values": [0, 0.05, 0.1, 0.15, 0.2], "format": ".2f", "title": "Cumulative Incidence of Osteoporosis"}},
       "y2": {"field": "hi"},
       "fill": {"field": "g", "type": "nominal", "scale": {"domain": ["Q1 (Lowest)", "Q2", "Q3", "Q4 (Highest)"], "range": ["#EE8A62", "#FDB56F", "#7D9BD6", "#8FCB7E"]}, "legend": {"title": "BMR Quartiles"}}}},
     {"data": {"name": "Fc"}, "mark": {"type": "line", "interpolate": "step-after", "strokeWidth": 1.2},
      "encoding": {
       "x": {"field": "t", "type": "quantitative", "scale": {"domain": [-0.65, 13.03], "nice": false, "zero": false}, "axis": {"values": [0, 2.5, 5, 7.5, 10, 12.5], "format": ".3~g", "title": "Time (Years)"}},
       "y": {"field": "v", "type": "quantitative", "scale": {"domain": [-0.009, 0.21], "nice": false, "zero": false}, "axis": {"values": [0, 0.05, 0.1, 0.15, 0.2], "format": ".2f", "title": "Cumulative Incidence of Osteoporosis"}},
       "stroke": {"field": "g", "type": "nominal", "scale": {"domain": ["Q1 (Lowest)", "Q2", "Q3", "Q4 (Highest)"], "range": ["#E41A1C", "#FF7F00", "#377EB8", "#4DAF4A"]}, "legend": {"title": "BMR Quartiles"}}}},
     {"data": {"name": "Fx"}, "mark": {"type": "point", "shape": "M-1,0L1,0M0,-1L0,1", "filled": false, "size": 20, "strokeWidth": 1, "opacity": 1},
      "encoding": {
       "x": {"field": "t", "type": "quantitative", "scale": {"domain": [-0.65, 13.03], "nice": false, "zero": false}, "axis": {"values": [0, 2.5, 5, 7.5, 10, 12.5], "format": ".3~g", "title": "Time (Years)"}},
       "y": {"field": "v", "type": "quantitative", "scale": {"domain": [-0.009, 0.21], "nice": false, "zero": false}, "axis": {"values": [0, 0.05, 0.1, 0.15, 0.2], "format": ".2f", "title": "Cumulative Incidence of Osteoporosis"}},
       "stroke": {"field": "g", "type": "nominal", "scale": {"domain": ["Q1 (Lowest)", "Q2", "Q3", "Q4 (Highest)"], "range": ["#E41A1C", "#FF7F00", "#377EB8", "#4DAF4A"]}, "legend": {"title": "BMR Quartiles"}}}},
     {"data": {"values": [{"s": "p < 0.0001"}]}, "mark": {"type": "text", "align": "left", "fontSize": 8.8, "color": "#000000"},
      "encoding": {
       "x": {"datum": 0.25, "type": "quantitative", "scale": {"domain": [-0.65, 13.03], "nice": false, "zero": false}, "axis": {"values": [0, 2.5, 5, 7.5, 10, 12.5], "format": ".3~g", "title": "Time (Years)"}},
       "y": {"datum": 0.2, "type": "quantitative", "scale": {"domain": [-0.009, 0.21], "nice": false, "zero": false}, "axis": {"values": [0, 0.05, 0.1, 0.15, 0.2], "format": ".2f", "title": "Cumulative Incidence of Osteoporosis"}},
       "text": {"field": "s"}}}
   ]},
  {"width": 336, "height": 47,
   "title": {"text": "Number at risk", "anchor": "start", "frame": "group", "fontSize": 8, "fontWeight": "normal", "offset": 1, "dx": 23},
   "data": {"name": "Fr"},
   "mark": {"type": "text", "fontSize": 8.5},
   "encoding": {
     "x": {"field": "t", "type": "quantitative", "scale": {"domain": [-0.63, 12.97], "range": [23, 336], "nice": false, "zero": false}, "axis": {"values": [0, 2.5, 5, 7.5, 10, 12.5], "format": ".3~g", "title": "Time (Years)", "labelColor": "#4D4D4D", "labelPadding": 2, "titlePadding": -1}},
     "y": {"field": "g", "type": "nominal", "scale": {"type": "point", "padding": 0.6, "domain": ["Q1 (Lowest)", "Q2", "Q3", "Q4 (Highest)"]}, "axis": {"offset": -23, "title": "BMR Quartiles", "titleFontSize": 7, "labelFontSize": 5.6, "labelColor": {"condition": [{"test": "datum.value === 'Q1 (Lowest)'", "value": "#E41A1C"}, {"test": "datum.value === 'Q2'", "value": "#FF7F00"}, {"test": "datum.value === 'Q3'", "value": "#377EB8"}], "value": "#4DAF4A"}}},
     "text": {"field": "n", "type": "nominal"},
     "color": {"field": "g", "type": "nominal", "scale": {"domain": ["Q1 (Lowest)", "Q2", "Q3", "Q4 (Highest)"], "range": ["#E41A1C", "#FF7F00", "#377EB8", "#4DAF4A"]}, "legend": null}}}
 ]}
], "spacing": 11, "resolve": {"scale": {"x": "independent", "y": "independent", "color": "independent", "stroke": "independent", "fill": "independent"}, "legend": {"color": "independent", "stroke": "independent", "fill": "independent"}}}
]
}
